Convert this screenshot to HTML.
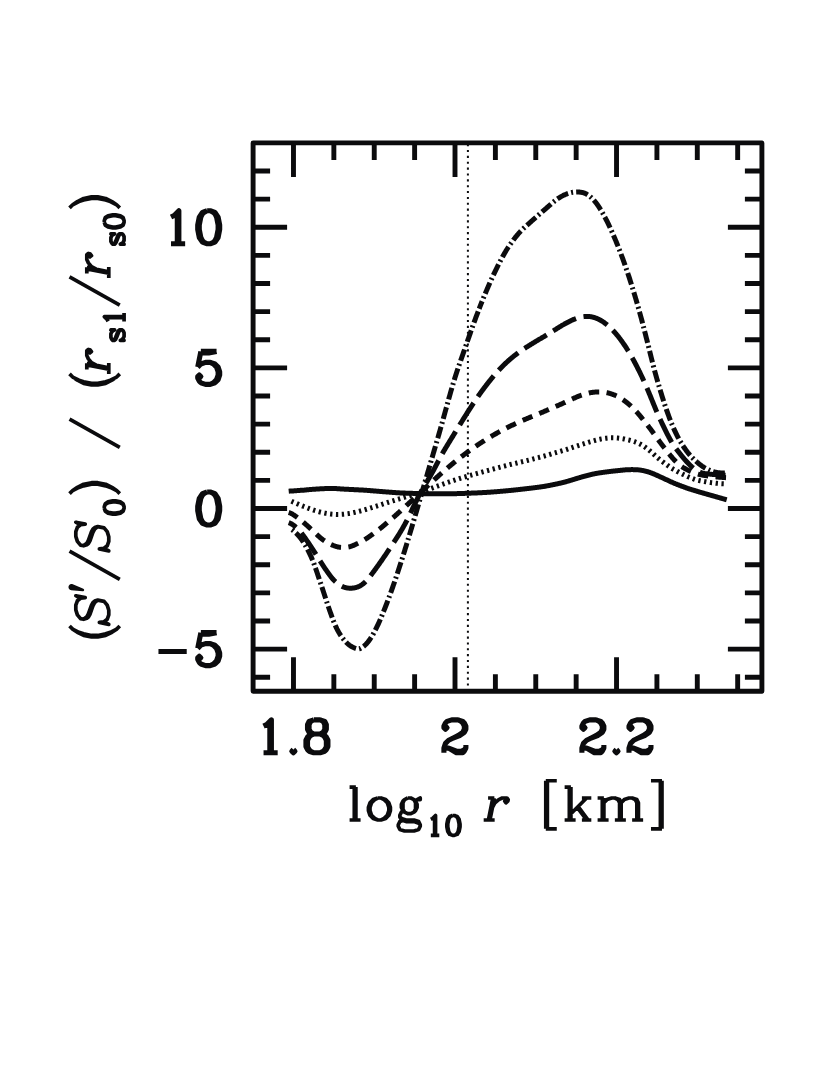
<!DOCTYPE html>
<html><head><meta charset="utf-8"><title>plot</title>
<style>html,body{margin:0;padding:0;background:#fff;font-family:"Liberation Sans",sans-serif}svg{display:block}</style></head>
<body><svg width="830" height="1075" viewBox="0 0 830 1075"><rect width="830" height="1075" fill="#fff"/>
<path d="M293.48 691.3V657.3M293.48 142.9V176.9M333.86 691.3V674.3M333.86 142.9V159.9M374.24 691.3V674.3M374.24 142.9V159.9M414.62 691.3V674.3M414.62 142.9V159.9M455 691.3V657.3M455 142.9V176.9M495.39 691.3V674.3M495.39 142.9V159.9M535.77 691.3V674.3M535.77 142.9V159.9M576.15 691.3V674.3M576.15 142.9V159.9M616.53 691.3V657.3M616.53 142.9V176.9M656.91 691.3V674.3M656.91 142.9V159.9M697.29 691.3V674.3M697.29 142.9V159.9M737.67 691.3V674.3M737.67 142.9V159.9M253.1 677.24H270.1M761.9 677.24H744.9M253.1 649.12H287.1M761.9 649.12H727.9M253.1 620.99H270.1M761.9 620.99H744.9M253.1 592.87H270.1M761.9 592.87H744.9M253.1 564.75H270.1M761.9 564.75H744.9M253.1 536.62H270.1M761.9 536.62H744.9M253.1 508.5H287.1M761.9 508.5H727.9M253.1 480.38H270.1M761.9 480.38H744.9M253.1 452.25H270.1M761.9 452.25H744.9M253.1 424.13H270.1M761.9 424.13H744.9M253.1 396.01H270.1M761.9 396.01H744.9M253.1 367.88H287.1M761.9 367.88H727.9M253.1 339.76H270.1M761.9 339.76H744.9M253.1 311.64H270.1M761.9 311.64H744.9M253.1 283.52H270.1M761.9 283.52H744.9M253.1 255.39H270.1M761.9 255.39H744.9M253.1 227.27H287.1M761.9 227.27H727.9M253.1 199.15H270.1M761.9 199.15H744.9M253.1 171.02H270.1M761.9 171.02H744.9" fill="none" stroke="#0b0b0d" stroke-width="4.9" stroke-linecap="butt"/>
<rect x="253.1" y="142.9" width="508.8" height="548.4" fill="none" stroke="#0b0b0d" stroke-width="4.9" stroke-linejoin="round"/>
<path d="M467.9 144.12V687" fill="none" stroke="#0b0b0d" stroke-width="2" stroke-dasharray="2.1 3.762"/>
<path d="M288.7 491.2 L289.19 491.15 L289.67 491.12 L290.16 491.08 L290.65 491.05 L291.14 491.02 L291.62 490.99 L292.11 490.96 L292.6 490.94 L293.08 490.91 L293.57 490.88 L294.06 490.86 L294.55 490.84 L295.03 490.79 L295.52 490.75 L296.01 490.7 L296.5 490.66 L296.98 490.62 L297.47 490.58 L297.96 490.54 L298.44 490.5 L298.93 490.46 L299.42 490.42 L299.91 490.39 L300.39 490.35 L300.88 490.32 L301.37 490.29 L301.85 490.26 L302.34 490.23 L302.83 490.2 L303.32 490.18 L303.8 490.15 L304.29 490.13 L304.78 490.07 L305.27 490.02 L305.75 489.96 L306.24 489.91 L306.73 489.86 L307.21 489.81 L307.7 489.76 L308.19 489.72 L308.68 489.67 L309.16 489.63 L309.65 489.58 L310.14 489.54 L310.62 489.5 L311.11 489.46 L311.6 489.42 L312.09 489.38 L312.57 489.35 L313.06 489.31 L313.55 489.28 L314.03 489.25 L314.52 489.21 L315.01 489.17 L315.5 489.14 L315.98 489.11 L316.47 489.07 L316.96 489.04 L317.45 489.01 L317.93 488.98 L318.42 488.95 L318.91 488.92 L319.39 488.89 L319.88 488.86 L320.37 488.83 L320.86 488.81 L321.34 488.78 L321.83 488.75 L322.32 488.73 L322.8 488.7 L323.29 488.68 L323.78 488.65 L324.27 488.63 L324.75 488.61 L325.24 488.59 L325.73 488.57 L326.22 488.56 L326.7 488.54 L327.19 488.52 L327.68 488.51 L328.16 488.49 L328.65 488.48 L329.14 488.47 L329.63 488.46 L330.11 488.45 L330.6 488.44 L331.09 488.43 L331.57 488.43 L332.06 488.42 L332.55 488.42 L333.04 488.41 L333.52 488.43 L334.01 488.46 L334.5 488.49 L334.98 488.52 L335.47 488.56 L335.96 488.59 L336.45 488.62 L336.93 488.65 L337.42 488.69 L337.91 488.72 L338.4 488.75 L338.88 488.79 L339.37 488.82 L339.86 488.86 L340.34 488.9 L340.83 488.93 L341.32 488.97 L341.81 489.01 L342.29 489.04 L342.78 489.08 L343.27 489.1 L343.75 489.12 L344.24 489.14 L344.73 489.16 L345.22 489.19 L345.7 489.21 L346.19 489.23 L346.68 489.26 L347.16 489.28 L347.65 489.31 L348.14 489.33 L348.63 489.36 L349.11 489.39 L349.6 489.41 L350.09 489.44 L350.58 489.46 L351.06 489.49 L351.55 489.52 L352.04 489.54 L352.52 489.57 L353.01 489.59 L353.5 489.62 L353.99 489.64 L354.47 489.67 L354.96 489.69 L355.45 489.71 L355.93 489.74 L356.42 489.76 L356.91 489.79 L357.4 489.81 L357.88 489.83 L358.37 489.86 L358.86 489.88 L359.35 489.91 L359.83 489.93 L360.32 489.96 L360.81 489.98 L361.29 490 L361.78 490.03 L362.27 490.05 L362.76 490.08 L363.24 490.1 L363.73 490.13 L364.22 490.15 L364.7 490.18 L365.19 490.21 L365.68 490.25 L366.17 490.29 L366.65 490.33 L367.14 490.37 L367.63 490.41 L368.11 490.45 L368.6 490.49 L369.09 490.53 L369.58 490.57 L370.06 490.61 L370.55 490.65 L371.04 490.69 L371.53 490.73 L372.01 490.77 L372.5 490.81 L372.99 490.85 L373.47 490.89 L373.96 490.93 L374.45 490.97 L374.94 491.01 L375.42 491.05 L375.91 491.09 L376.4 491.13 L376.88 491.17 L377.37 491.21 L377.86 491.25 L378.35 491.29 L378.83 491.33 L379.32 491.37 L379.81 491.41 L380.3 491.45 L380.78 491.49 L381.27 491.53 L381.76 491.57 L382.24 491.6 L382.73 491.64 L383.22 491.68 L383.71 491.72 L384.19 491.76 L384.68 491.8 L385.17 491.83 L385.65 491.87 L386.14 491.91 L386.63 491.95 L387.12 491.98 L387.6 492.02 L388.09 492.06 L388.58 492.09 L389.06 492.13 L389.55 492.17 L390.04 492.2 L390.53 492.24 L391.01 492.28 L391.5 492.31 L391.99 492.35 L392.48 492.38 L392.96 492.42 L393.45 492.46 L393.94 492.49 L394.42 492.53 L394.91 492.56 L395.4 492.6 L395.89 492.63 L396.37 492.67 L396.86 492.7 L397.35 492.74 L397.83 492.77 L398.32 492.81 L398.81 492.83 L399.3 492.86 L399.78 492.88 L400.27 492.9 L400.76 492.92 L401.25 492.94 L401.73 492.97 L402.22 492.99 L402.71 493.01 L403.19 493.03 L403.68 493.05 L404.17 493.07 L404.66 493.09 L405.14 493.11 L405.63 493.13 L406.12 493.15 L406.6 493.17 L407.09 493.19 L407.58 493.21 L408.07 493.22 L408.55 493.24 L409.04 493.26 L409.53 493.27 L410.01 493.29 L410.5 493.31 L410.99 493.32 L411.48 493.34 L411.96 493.35 L412.45 493.37 L412.94 493.38 L413.43 493.4 L413.91 493.41 L414.4 493.42 L414.89 493.44 L415.37 493.45 L415.86 493.46 L416.35 493.48 L416.84 493.49 L417.32 493.5 L417.81 493.51 L418.3 493.53 L418.78 493.54 L419.27 493.55 L419.76 493.57 L420.25 493.58 L420.73 493.59 L421.22 493.6 L421.71 493.61 L422.19 493.63 L422.68 493.64 L423.17 493.65 L423.66 493.66 L424.14 493.67 L424.63 493.68 L425.12 493.68 L425.61 493.69 L426.09 493.7 L426.58 493.71 L427.07 493.71 L427.55 493.72 L428.04 493.73 L428.53 493.73 L429.02 493.74 L429.5 493.74 L429.99 493.75 L430.48 493.75 L430.96 493.76 L431.45 493.76 L431.94 493.77 L432.43 493.77 L432.91 493.77 L433.4 493.77 L433.89 493.78 L434.38 493.78 L434.86 493.78 L435.35 493.78 L435.84 493.78 L436.32 493.78 L436.81 493.78 L437.3 493.78 L437.79 493.78 L438.27 493.78 L438.76 493.78 L439.25 493.78 L439.73 493.78 L440.22 493.78 L440.71 493.78 L441.2 493.78 L441.68 493.78 L442.17 493.78 L442.66 493.79 L443.14 493.79 L443.63 493.79 L444.12 493.79 L444.61 493.79 L445.09 493.79 L445.58 493.79 L446.07 493.78 L446.56 493.78 L447.04 493.78 L447.53 493.78 L448.02 493.77 L448.5 493.77 L448.99 493.77 L449.48 493.76 L449.97 493.76 L450.45 493.75 L450.94 493.74 L451.43 493.74 L451.91 493.73 L452.4 493.72 L452.89 493.71 L453.38 493.71 L453.86 493.7 L454.35 493.69 L454.84 493.68 L455.33 493.67 L455.81 493.66 L456.3 493.65 L456.79 493.63 L457.27 493.62 L457.76 493.61 L458.25 493.6 L458.74 493.58 L459.22 493.57 L459.71 493.55 L460.2 493.54 L460.68 493.52 L461.17 493.51 L461.66 493.49 L462.15 493.48 L462.63 493.46 L463.12 493.44 L463.61 493.42 L464.09 493.41 L464.58 493.39 L465.07 493.37 L465.56 493.35 L466.04 493.33 L466.53 493.31 L467.02 493.29 L467.51 493.27 L467.99 493.24 L468.48 493.23 L468.97 493.21 L469.45 493.19 L469.94 493.18 L470.43 493.16 L470.92 493.14 L471.4 493.12 L471.89 493.1 L472.38 493.08 L472.86 493.07 L473.35 493.05 L473.84 493.03 L474.33 493 L474.81 492.98 L475.3 492.96 L475.79 492.94 L476.28 492.92 L476.76 492.9 L477.25 492.88 L477.74 492.85 L478.22 492.83 L478.71 492.81 L479.2 492.78 L479.69 492.76 L480.17 492.73 L480.66 492.71 L481.15 492.68 L481.63 492.66 L482.12 492.63 L482.61 492.61 L483.1 492.58 L483.58 492.55 L484.07 492.52 L484.56 492.5 L485.04 492.47 L485.53 492.44 L486.02 492.41 L486.51 492.38 L486.99 492.35 L487.48 492.32 L487.97 492.29 L488.46 492.26 L488.94 492.22 L489.43 492.19 L489.92 492.16 L490.4 492.13 L490.89 492.09 L491.38 492.06 L491.87 492.02 L492.35 491.99 L492.84 491.95 L493.33 491.92 L493.81 491.88 L494.3 491.85 L494.79 491.81 L495.28 491.77 L495.76 491.73 L496.25 491.7 L496.74 491.66 L497.23 491.62 L497.71 491.58 L498.2 491.54 L498.69 491.5 L499.17 491.46 L499.66 491.42 L500.15 491.38 L500.64 491.34 L501.12 491.3 L501.61 491.26 L502.1 491.22 L502.58 491.17 L503.07 491.13 L503.56 491.09 L504.05 491.04 L504.53 491 L505.02 490.95 L505.51 490.91 L505.99 490.86 L506.48 490.82 L506.97 490.77 L507.46 490.73 L507.94 490.68 L508.43 490.63 L508.92 490.58 L509.41 490.53 L509.89 490.49 L510.38 490.44 L510.87 490.39 L511.35 490.34 L511.84 490.29 L512.33 490.24 L512.82 490.19 L513.3 490.14 L513.79 490.09 L514.28 490.04 L514.76 489.99 L515.25 489.94 L515.74 489.88 L516.23 489.83 L516.71 489.78 L517.2 489.73 L517.69 489.67 L518.17 489.62 L518.66 489.57 L519.15 489.51 L519.64 489.46 L520.12 489.4 L520.61 489.35 L521.1 489.29 L521.59 489.23 L522.07 489.18 L522.56 489.12 L523.05 489.06 L523.53 489 L524.02 488.94 L524.51 488.89 L525 488.83 L525.48 488.77 L525.97 488.72 L526.46 488.67 L526.94 488.61 L527.43 488.56 L527.92 488.5 L528.41 488.45 L528.89 488.39 L529.38 488.34 L529.87 488.28 L530.36 488.23 L530.84 488.17 L531.33 488.11 L531.82 488.05 L532.3 488 L532.79 487.94 L533.28 487.88 L533.77 487.82 L534.25 487.76 L534.74 487.7 L535.23 487.63 L535.71 487.57 L536.2 487.51 L536.69 487.44 L537.18 487.38 L537.66 487.31 L538.15 487.25 L538.64 487.18 L539.12 487.11 L539.61 487.05 L540.1 486.98 L540.59 486.91 L541.07 486.84 L541.56 486.77 L542.05 486.7 L542.54 486.63 L543.02 486.56 L543.51 486.49 L544 486.41 L544.48 486.33 L544.97 486.24 L545.46 486.16 L545.95 486.07 L546.43 485.98 L546.92 485.9 L547.41 485.81 L547.89 485.72 L548.38 485.63 L548.87 485.54 L549.36 485.44 L549.84 485.35 L550.33 485.26 L550.82 485.16 L551.31 485.06 L551.79 484.97 L552.28 484.87 L552.77 484.77 L553.25 484.67 L553.74 484.57 L554.23 484.47 L554.72 484.37 L555.2 484.27 L555.69 484.17 L556.18 484.06 L556.66 483.96 L557.15 483.85 L557.64 483.75 L558.13 483.64 L558.61 483.53 L559.1 483.42 L559.59 483.31 L560.07 483.2 L560.56 483.09 L561.05 482.98 L561.54 482.87 L562.02 482.75 L562.51 482.64 L563 482.52 L563.49 482.41 L563.97 482.28 L564.46 482.14 L564.95 482.01 L565.43 481.87 L565.92 481.73 L566.41 481.6 L566.9 481.46 L567.38 481.32 L567.87 481.18 L568.36 481.04 L568.84 480.89 L569.33 480.75 L569.82 480.61 L570.31 480.46 L570.79 480.31 L571.28 480.17 L571.77 480.02 L572.26 479.87 L572.74 479.72 L573.23 479.57 L573.72 479.42 L574.2 479.27 L574.69 479.11 L575.18 478.96 L575.67 478.81 L576.15 478.66 L576.64 478.51 L577.13 478.36 L577.61 478.21 L578.1 478.06 L578.59 477.92 L579.08 477.77 L579.56 477.62 L580.05 477.48 L580.54 477.34 L581.02 477.19 L581.51 477.05 L582 476.91 L582.49 476.77 L582.97 476.63 L583.46 476.5 L583.95 476.37 L584.44 476.24 L584.92 476.11 L585.41 475.98 L585.9 475.85 L586.38 475.73 L586.87 475.6 L587.36 475.48 L587.85 475.35 L588.33 475.23 L588.82 475.11 L589.31 474.99 L589.79 474.87 L590.28 474.75 L590.77 474.63 L591.26 474.51 L591.74 474.4 L592.23 474.28 L592.72 474.17 L593.21 474.06 L593.69 473.96 L594.18 473.85 L594.67 473.75 L595.15 473.66 L595.64 473.56 L596.13 473.47 L596.62 473.38 L597.1 473.3 L597.59 473.21 L598.08 473.13 L598.56 473.05 L599.05 472.97 L599.54 472.9 L600.03 472.82 L600.51 472.75 L601 472.68 L601.49 472.6 L601.97 472.53 L602.46 472.46 L602.95 472.39 L603.44 472.33 L603.92 472.26 L604.41 472.19 L604.9 472.13 L605.39 472.06 L605.87 472 L606.36 471.93 L606.85 471.87 L607.33 471.81 L607.82 471.75 L608.31 471.68 L608.8 471.62 L609.28 471.56 L609.77 471.5 L610.26 471.44 L610.74 471.38 L611.23 471.33 L611.72 471.27 L612.21 471.21 L612.69 471.15 L613.18 471.1 L613.67 471.04 L614.15 470.99 L614.64 470.94 L615.13 470.89 L615.62 470.84 L616.1 470.79 L616.59 470.74 L617.08 470.69 L617.57 470.64 L618.05 470.6 L618.54 470.55 L619.03 470.51 L619.51 470.45 L620 470.4 L620.49 470.34 L620.98 470.29 L621.46 470.24 L621.95 470.19 L622.44 470.14 L622.92 470.09 L623.41 470.04 L623.9 469.99 L624.39 469.94 L624.87 469.9 L625.36 469.86 L625.85 469.83 L626.34 469.79 L626.82 469.76 L627.31 469.74 L627.8 469.71 L628.28 469.69 L628.77 469.67 L629.26 469.66 L629.75 469.64 L630.23 469.63 L630.72 469.63 L631.21 469.62 L631.69 469.62 L632.18 469.62 L632.67 469.62 L633.16 469.63 L633.64 469.64 L634.13 469.65 L634.62 469.66 L635.1 469.67 L635.59 469.69 L636.08 469.71 L636.57 469.73 L637.05 469.76 L637.54 469.8 L638.03 469.84 L638.52 469.88 L639 469.94 L639.49 470 L639.98 470.07 L640.46 470.14 L640.95 470.22 L641.44 470.3 L641.93 470.38 L642.41 470.47 L642.9 470.56 L643.39 470.66 L643.87 470.76 L644.36 470.86 L644.85 470.98 L645.34 471.09 L645.82 471.21 L646.31 471.34 L646.8 471.47 L647.29 471.6 L647.77 471.73 L648.26 471.89 L648.75 472.05 L649.23 472.22 L649.72 472.4 L650.21 472.58 L650.7 472.76 L651.18 472.94 L651.67 473.13 L652.16 473.31 L652.64 473.51 L653.13 473.7 L653.62 473.9 L654.11 474.11 L654.59 474.32 L655.08 474.53 L655.57 474.74 L656.05 474.96 L656.54 475.17 L657.03 475.39 L657.52 475.6 L658 475.82 L658.49 476.04 L658.98 476.26 L659.47 476.48 L659.95 476.7 L660.44 476.92 L660.93 477.14 L661.41 477.37 L661.9 477.59 L662.39 477.82 L662.88 478.05 L663.36 478.27 L663.85 478.5 L664.34 478.73 L664.82 478.96 L665.31 479.19 L665.8 479.42 L666.29 479.64 L666.77 479.87 L667.26 480.1 L667.75 480.33 L668.24 480.56 L668.72 480.78 L669.21 481.01 L669.7 481.23 L670.18 481.45 L670.67 481.67 L671.16 481.9 L671.65 482.11 L672.13 482.33 L672.62 482.55 L673.11 482.76 L673.59 482.97 L674.08 483.18 L674.57 483.38 L675.06 483.59 L675.54 483.79 L676.03 483.98 L676.52 484.18 L677 484.37 L677.49 484.56 L677.98 484.75 L678.47 484.94 L678.95 485.12 L679.44 485.31 L679.93 485.49 L680.42 485.67 L680.9 485.86 L681.39 486.05 L681.88 486.24 L682.36 486.42 L682.85 486.6 L683.34 486.79 L683.83 486.97 L684.31 487.15 L684.8 487.33 L685.29 487.51 L685.77 487.68 L686.26 487.86 L686.75 488.03 L687.24 488.2 L687.72 488.37 L688.21 488.53 L688.7 488.69 L689.18 488.85 L689.67 489.01 L690.16 489.17 L690.65 489.32 L691.13 489.47 L691.62 489.62 L692.11 489.77 L692.6 489.92 L693.08 490.07 L693.57 490.21 L694.06 490.36 L694.54 490.51 L695.03 490.66 L695.52 490.81 L696.01 490.96 L696.49 491.11 L696.98 491.26 L697.47 491.41 L697.95 491.56 L698.44 491.7 L698.93 491.85 L699.42 492 L699.9 492.15 L700.39 492.29 L700.88 492.43 L701.37 492.57 L701.85 492.7 L702.34 492.84 L702.83 492.98 L703.31 493.12 L703.8 493.26 L704.29 493.39 L704.78 493.53 L705.26 493.67 L705.75 493.81 L706.24 493.95 L706.72 494.09 L707.21 494.23 L707.7 494.36 L708.19 494.5 L708.67 494.64 L709.16 494.78 L709.65 494.92 L710.13 495.06 L710.62 495.2 L711.11 495.34 L711.6 495.48 L712.08 495.62 L712.57 495.76 L713.06 495.9 L713.55 496.03 L714.03 496.17 L714.52 496.31 L715.01 496.45 L715.49 496.59 L715.98 496.73 L716.47 496.87 L716.96 497.01 L717.44 497.15 L717.93 497.29 L718.42 497.43 L718.9 497.57 L719.39 497.7 L719.88 497.84 L720.37 497.98 L720.85 498.12 L721.34 498.26 L721.83 498.4 L722.32 498.54 L722.8 498.68 L723.29 498.82 L723.78 498.96 L724.26 499.1 L724.75 499.24 L725.24 499.38 L725.73 499.52 L726.21 499.66 L726.7 499.8" fill="none" stroke="#0b0b0d" stroke-width="5" stroke-linejoin="round"/>
<path d="M288.7 500 L289.19 500.22 L289.67 500.43 L290.16 500.65 L290.65 500.87 L291.14 501.08 L291.62 501.3 L292.11 501.51 L292.6 501.73 L293.08 501.94 L293.57 502.15 L294.06 502.37 L294.55 502.58 L295.03 502.79 L295.52 503 L296.01 503.21 L296.5 503.42 L296.98 503.63 L297.47 503.83 L297.96 504.04 L298.44 504.25 L298.93 504.46 L299.42 504.66 L299.91 504.87 L300.39 505.07 L300.88 505.28 L301.37 505.48 L301.85 505.69 L302.34 505.89 L302.83 506.1 L303.32 506.3 L303.8 506.5 L304.29 506.7 L304.78 506.9 L305.27 507.09 L305.75 507.28 L306.24 507.47 L306.73 507.65 L307.21 507.83 L307.7 508.02 L308.19 508.19 L308.68 508.37 L309.16 508.55 L309.65 508.72 L310.14 508.89 L310.62 509.06 L311.11 509.23 L311.6 509.4 L312.09 509.57 L312.57 509.74 L313.06 509.9 L313.55 510.07 L314.03 510.24 L314.52 510.4 L315.01 510.56 L315.5 510.71 L315.98 510.87 L316.47 511.02 L316.96 511.16 L317.45 511.3 L317.93 511.44 L318.42 511.58 L318.91 511.71 L319.39 511.84 L319.88 511.97 L320.37 512.09 L320.86 512.21 L321.34 512.33 L321.83 512.45 L322.32 512.56 L322.8 512.67 L323.29 512.78 L323.78 512.89 L324.27 512.99 L324.75 513.09 L325.24 513.19 L325.73 513.28 L326.22 513.38 L326.7 513.46 L327.19 513.55 L327.68 513.63 L328.16 513.7 L328.65 513.77 L329.14 513.84 L329.63 513.91 L330.11 513.97 L330.6 514.03 L331.09 514.08 L331.57 514.13 L332.06 514.18 L332.55 514.22 L333.04 514.26 L333.52 514.3 L334.01 514.33 L334.5 514.36 L334.98 514.39 L335.47 514.41 L335.96 514.43 L336.45 514.45 L336.93 514.47 L337.42 514.48 L337.91 514.48 L338.4 514.48 L338.88 514.48 L339.37 514.47 L339.86 514.46 L340.34 514.44 L340.83 514.41 L341.32 514.38 L341.81 514.35 L342.29 514.31 L342.78 514.26 L343.27 514.21 L343.75 514.16 L344.24 514.11 L344.73 514.05 L345.22 514 L345.7 513.94 L346.19 513.88 L346.68 513.82 L347.16 513.75 L347.65 513.69 L348.14 513.62 L348.63 513.55 L349.11 513.47 L349.6 513.39 L350.09 513.31 L350.58 513.23 L351.06 513.14 L351.55 513.05 L352.04 512.96 L352.52 512.86 L353.01 512.76 L353.5 512.65 L353.99 512.54 L354.47 512.43 L354.96 512.31 L355.45 512.2 L355.93 512.09 L356.42 511.97 L356.91 511.86 L357.4 511.74 L357.88 511.62 L358.37 511.5 L358.86 511.38 L359.35 511.25 L359.83 511.13 L360.32 511 L360.81 510.88 L361.29 510.75 L361.78 510.61 L362.27 510.48 L362.76 510.35 L363.24 510.21 L363.73 510.07 L364.22 509.93 L364.7 509.78 L365.19 509.64 L365.68 509.49 L366.17 509.34 L366.65 509.19 L367.14 509.04 L367.63 508.89 L368.11 508.74 L368.6 508.58 L369.09 508.43 L369.58 508.28 L370.06 508.13 L370.55 507.98 L371.04 507.83 L371.53 507.68 L372.01 507.52 L372.5 507.37 L372.99 507.22 L373.47 507.07 L373.96 506.91 L374.45 506.76 L374.94 506.61 L375.42 506.45 L375.91 506.3 L376.4 506.14 L376.88 505.99 L377.37 505.83 L377.86 505.67 L378.35 505.52 L378.83 505.36 L379.32 505.2 L379.81 505.05 L380.3 504.89 L380.78 504.73 L381.27 504.57 L381.76 504.41 L382.24 504.25 L382.73 504.09 L383.22 503.93 L383.71 503.77 L384.19 503.61 L384.68 503.45 L385.17 503.29 L385.65 503.13 L386.14 502.97 L386.63 502.81 L387.12 502.65 L387.6 502.5 L388.09 502.34 L388.58 502.18 L389.06 502.03 L389.55 501.88 L390.04 501.72 L390.53 501.57 L391.01 501.42 L391.5 501.27 L391.99 501.12 L392.48 500.97 L392.96 500.82 L393.45 500.67 L393.94 500.52 L394.42 500.37 L394.91 500.22 L395.4 500.07 L395.89 499.92 L396.37 499.77 L396.86 499.62 L397.35 499.47 L397.83 499.32 L398.32 499.17 L398.81 499.02 L399.3 498.87 L399.78 498.72 L400.27 498.57 L400.76 498.42 L401.25 498.27 L401.73 498.12 L402.22 497.96 L402.71 497.81 L403.19 497.66 L403.68 497.51 L404.17 497.36 L404.66 497.21 L405.14 497.06 L405.63 496.91 L406.12 496.76 L406.6 496.61 L407.09 496.46 L407.58 496.31 L408.07 496.16 L408.55 496.01 L409.04 495.86 L409.53 495.71 L410.01 495.56 L410.5 495.41 L410.99 495.26 L411.48 495.11 L411.96 494.95 L412.45 494.8 L412.94 494.65 L413.43 494.5 L413.91 494.35 L414.4 494.19 L414.89 494.04 L415.37 493.88 L415.86 493.72 L416.35 493.57 L416.84 493.41 L417.32 493.25 L417.81 493.08 L418.3 492.92 L418.78 492.76 L419.27 492.59 L419.76 492.42 L420.25 492.26 L420.73 492.09 L421.22 491.92 L421.71 491.75 L422.19 491.58 L422.68 491.41 L423.17 491.23 L423.66 491.06 L424.14 490.89 L424.63 490.72 L425.12 490.55 L425.61 490.37 L426.09 490.2 L426.58 490.03 L427.07 489.85 L427.55 489.68 L428.04 489.51 L428.53 489.33 L429.02 489.16 L429.5 488.99 L429.99 488.81 L430.48 488.64 L430.96 488.47 L431.45 488.29 L431.94 488.12 L432.43 487.95 L432.91 487.77 L433.4 487.6 L433.89 487.42 L434.38 487.25 L434.86 487.07 L435.35 486.89 L435.84 486.72 L436.32 486.54 L436.81 486.37 L437.3 486.19 L437.79 486.01 L438.27 485.84 L438.76 485.66 L439.25 485.49 L439.73 485.31 L440.22 485.13 L440.71 484.96 L441.2 484.78 L441.68 484.6 L442.17 484.43 L442.66 484.25 L443.14 484.08 L443.63 483.9 L444.12 483.73 L444.61 483.55 L445.09 483.38 L445.58 483.2 L446.07 483.03 L446.56 482.85 L447.04 482.68 L447.53 482.51 L448.02 482.34 L448.5 482.16 L448.99 481.99 L449.48 481.82 L449.97 481.66 L450.45 481.49 L450.94 481.32 L451.43 481.16 L451.91 480.99 L452.4 480.83 L452.89 480.67 L453.38 480.51 L453.86 480.35 L454.35 480.19 L454.84 480.03 L455.33 479.87 L455.81 479.71 L456.3 479.56 L456.79 479.4 L457.27 479.25 L457.76 479.09 L458.25 478.94 L458.74 478.79 L459.22 478.64 L459.71 478.49 L460.2 478.34 L460.68 478.19 L461.17 478.04 L461.66 477.89 L462.15 477.75 L462.63 477.6 L463.12 477.45 L463.61 477.31 L464.09 477.16 L464.58 477.02 L465.07 476.88 L465.56 476.74 L466.04 476.59 L466.53 476.45 L467.02 476.31 L467.51 476.17 L467.99 476.03 L468.48 475.89 L468.97 475.75 L469.45 475.61 L469.94 475.47 L470.43 475.33 L470.92 475.19 L471.4 475.05 L471.89 474.91 L472.38 474.78 L472.86 474.64 L473.35 474.5 L473.84 474.36 L474.33 474.22 L474.81 474.09 L475.3 473.95 L475.79 473.81 L476.28 473.67 L476.76 473.54 L477.25 473.4 L477.74 473.26 L478.22 473.13 L478.71 472.99 L479.2 472.86 L479.69 472.72 L480.17 472.59 L480.66 472.45 L481.15 472.32 L481.63 472.18 L482.12 472.05 L482.61 471.92 L483.1 471.78 L483.58 471.65 L484.07 471.52 L484.56 471.38 L485.04 471.25 L485.53 471.12 L486.02 470.99 L486.51 470.86 L486.99 470.72 L487.48 470.59 L487.97 470.46 L488.46 470.33 L488.94 470.2 L489.43 470.07 L489.92 469.94 L490.4 469.81 L490.89 469.68 L491.38 469.55 L491.87 469.42 L492.35 469.29 L492.84 469.16 L493.33 469.03 L493.81 468.9 L494.3 468.77 L494.79 468.64 L495.28 468.51 L495.76 468.38 L496.25 468.25 L496.74 468.12 L497.23 467.99 L497.71 467.86 L498.2 467.72 L498.69 467.59 L499.17 467.46 L499.66 467.33 L500.15 467.2 L500.64 467.07 L501.12 466.94 L501.61 466.82 L502.1 466.69 L502.58 466.56 L503.07 466.43 L503.56 466.3 L504.05 466.18 L504.53 466.05 L505.02 465.92 L505.51 465.79 L505.99 465.66 L506.48 465.53 L506.97 465.4 L507.46 465.27 L507.94 465.14 L508.43 465.01 L508.92 464.88 L509.41 464.75 L509.89 464.62 L510.38 464.51 L510.87 464.4 L511.35 464.29 L511.84 464.18 L512.33 464.06 L512.82 463.95 L513.3 463.84 L513.79 463.73 L514.28 463.62 L514.76 463.5 L515.25 463.39 L515.74 463.28 L516.23 463.16 L516.71 463.05 L517.2 462.94 L517.69 462.82 L518.17 462.71 L518.66 462.59 L519.15 462.48 L519.64 462.36 L520.12 462.25 L520.61 462.13 L521.1 462.01 L521.59 461.89 L522.07 461.78 L522.56 461.66 L523.05 461.54 L523.53 461.42 L524.02 461.3 L524.51 461.18 L525 461.06 L525.48 460.94 L525.97 460.82 L526.46 460.7 L526.94 460.57 L527.43 460.45 L527.92 460.33 L528.41 460.2 L528.89 460.08 L529.38 459.95 L529.87 459.83 L530.36 459.7 L530.84 459.58 L531.33 459.45 L531.82 459.33 L532.3 459.2 L532.79 459.07 L533.28 458.95 L533.77 458.82 L534.25 458.69 L534.74 458.57 L535.23 458.44 L535.71 458.31 L536.2 458.18 L536.69 458.06 L537.18 457.93 L537.66 457.8 L538.15 457.68 L538.64 457.55 L539.12 457.42 L539.61 457.29 L540.1 457.17 L540.59 457.04 L541.07 456.91 L541.56 456.79 L542.05 456.66 L542.54 456.53 L543.02 456.4 L543.51 456.28 L544 456.15 L544.48 456 L544.97 455.86 L545.46 455.71 L545.95 455.57 L546.43 455.42 L546.92 455.28 L547.41 455.13 L547.89 454.99 L548.38 454.84 L548.87 454.7 L549.36 454.55 L549.84 454.41 L550.33 454.26 L550.82 454.11 L551.31 453.97 L551.79 453.82 L552.28 453.68 L552.77 453.53 L553.25 453.39 L553.74 453.24 L554.23 453.1 L554.72 452.95 L555.2 452.81 L555.69 452.66 L556.18 452.52 L556.66 452.37 L557.15 452.23 L557.64 452.08 L558.13 451.94 L558.61 451.8 L559.1 451.65 L559.59 451.51 L560.07 451.37 L560.56 451.23 L561.05 451.09 L561.54 450.95 L562.02 450.81 L562.51 450.67 L563 450.53 L563.49 450.39 L563.97 450.25 L564.46 450.11 L564.95 449.97 L565.43 449.83 L565.92 449.69 L566.41 449.52 L566.9 449.35 L567.38 449.18 L567.87 449.02 L568.36 448.85 L568.84 448.68 L569.33 448.51 L569.82 448.34 L570.31 448.18 L570.79 448.01 L571.28 447.85 L571.77 447.68 L572.26 447.52 L572.74 447.36 L573.23 447.2 L573.72 447.04 L574.2 446.88 L574.69 446.72 L575.18 446.56 L575.67 446.4 L576.15 446.24 L576.64 446.08 L577.13 445.92 L577.61 445.76 L578.1 445.6 L578.59 445.44 L579.08 445.29 L579.56 445.13 L580.05 444.97 L580.54 444.81 L581.02 444.66 L581.51 444.5 L582 444.35 L582.49 444.2 L582.97 444.05 L583.46 443.89 L583.95 443.73 L584.44 443.57 L584.92 443.42 L585.41 443.27 L585.9 443.11 L586.38 442.96 L586.87 442.81 L587.36 442.66 L587.85 442.52 L588.33 442.37 L588.82 442.22 L589.31 442.08 L589.79 441.94 L590.28 441.79 L590.77 441.65 L591.26 441.51 L591.74 441.37 L592.23 441.23 L592.72 441.09 L593.21 440.95 L593.69 440.82 L594.18 440.68 L594.67 440.54 L595.15 440.41 L595.64 440.27 L596.13 440.14 L596.62 440 L597.1 439.87 L597.59 439.74 L598.08 439.61 L598.56 439.49 L599.05 439.38 L599.54 439.28 L600.03 439.18 L600.51 439.09 L601 439 L601.49 438.91 L601.97 438.83 L602.46 438.75 L602.95 438.67 L603.44 438.6 L603.92 438.53 L604.41 438.46 L604.9 438.4 L605.39 438.34 L605.87 438.28 L606.36 438.22 L606.85 438.16 L607.33 438.11 L607.82 438.06 L608.31 438.01 L608.8 437.96 L609.28 437.91 L609.77 437.86 L610.26 437.83 L610.74 437.82 L611.23 437.81 L611.72 437.8 L612.21 437.8 L612.69 437.81 L613.18 437.81 L613.67 437.82 L614.15 437.84 L614.64 437.86 L615.13 437.88 L615.62 437.91 L616.1 437.94 L616.59 437.98 L617.08 438.02 L617.57 438.06 L618.05 438.11 L618.54 438.16 L619.03 438.21 L619.51 438.27 L620 438.33 L620.49 438.4 L620.98 438.47 L621.46 438.54 L621.95 438.61 L622.44 438.69 L622.92 438.77 L623.41 438.86 L623.9 438.96 L624.39 439.05 L624.87 439.16 L625.36 439.27 L625.85 439.38 L626.34 439.5 L626.82 439.62 L627.31 439.75 L627.8 439.86 L628.28 439.96 L628.77 440.06 L629.26 440.17 L629.75 440.29 L630.23 440.4 L630.72 440.53 L631.21 440.66 L631.69 440.8 L632.18 440.94 L632.67 441.09 L633.16 441.24 L633.64 441.4 L634.13 441.56 L634.62 441.72 L635.1 441.89 L635.59 442.06 L636.08 442.24 L636.57 442.42 L637.05 442.61 L637.54 442.8 L638.03 443 L638.52 443.23 L639 443.47 L639.49 443.71 L639.98 443.96 L640.46 444.22 L640.95 444.48 L641.44 444.75 L641.93 445.02 L642.41 445.3 L642.9 445.58 L643.39 445.87 L643.87 446.22 L644.36 446.57 L644.85 446.92 L645.34 447.28 L645.82 447.64 L646.31 448 L646.8 448.36 L647.29 448.72 L647.77 449.09 L648.26 449.47 L648.75 449.87 L649.23 450.28 L649.72 450.69 L650.21 451.11 L650.7 451.53 L651.18 451.95 L651.67 452.38 L652.16 452.82 L652.64 453.26 L653.13 453.71 L653.62 454.15 L654.11 454.6 L654.59 455.05 L655.08 455.5 L655.57 455.95 L656.05 456.4 L656.54 456.85 L657.03 457.29 L657.52 457.68 L658 458.07 L658.49 458.47 L658.98 458.86 L659.47 459.26 L659.95 459.65 L660.44 460.04 L660.93 460.44 L661.41 460.82 L661.9 461.18 L662.39 461.54 L662.88 461.9 L663.36 462.26 L663.85 462.62 L664.34 462.98 L664.82 463.34 L665.31 463.7 L665.8 464.06 L666.29 464.42 L666.77 464.78 L667.26 465.14 L667.75 465.5 L668.24 465.86 L668.72 466.22 L669.21 466.58 L669.7 466.94 L670.18 467.3 L670.67 467.63 L671.16 467.93 L671.65 468.22 L672.13 468.51 L672.62 468.79 L673.11 469.07 L673.59 469.34 L674.08 469.61 L674.57 469.87 L675.06 470.14 L675.54 470.4 L676.03 470.68 L676.52 470.95 L677 471.23 L677.49 471.5 L677.98 471.77 L678.47 472.03 L678.95 472.3 L679.44 472.56 L679.93 472.82 L680.42 473.08 L680.9 473.35 L681.39 473.61 L681.88 473.86 L682.36 474.12 L682.85 474.36 L683.34 474.6 L683.83 474.84 L684.31 475.07 L684.8 475.3 L685.29 475.53 L685.77 475.75 L686.26 475.97 L686.75 476.18 L687.24 476.4 L687.72 476.61 L688.21 476.81 L688.7 477.01 L689.18 477.21 L689.67 477.41 L690.16 477.6 L690.65 477.79 L691.13 477.98 L691.62 478.18 L692.11 478.37 L692.6 478.56 L693.08 478.75 L693.57 478.94 L694.06 479.12 L694.54 479.3 L695.03 479.48 L695.52 479.65 L696.01 479.82 L696.49 479.99 L696.98 480.11 L697.47 480.22 L697.95 480.32 L698.44 480.43 L698.93 480.53 L699.42 480.62 L699.9 480.71 L700.39 480.8 L700.88 480.89 L701.37 480.97 L701.85 481.05 L702.34 481.13 L702.83 481.23 L703.31 481.33 L703.8 481.43 L704.29 481.52 L704.78 481.62 L705.26 481.71 L705.75 481.8 L706.24 481.88 L706.72 481.97 L707.21 482.05 L707.7 482.13 L708.19 482.2 L708.67 482.28 L709.16 482.35 L709.65 482.42 L710.13 482.49 L710.62 482.55 L711.11 482.61 L711.6 482.67 L712.08 482.73 L712.57 482.78 L713.06 482.83 L713.55 482.88 L714.03 482.95 L714.52 483.02 L715.01 483.08 L715.49 483.14 L715.98 483.2 L716.47 483.26 L716.96 483.32 L717.44 483.37 L717.93 483.42 L718.42 483.46 L718.9 483.51 L719.39 483.55 L719.88 483.59 L720.37 483.63 L720.85 483.67 L721.34 483.7 L721.83 483.73 L722.32 483.76 L722.8 483.78 L723.29 483.81 L723.78 483.83 L724.26 483.84 L724.75 483.86 L725.24 483.87 L725.73 483.88 L726.21 483.89 L726.7 483.89" fill="none" stroke="#0b0b0d" stroke-width="5" stroke-linejoin="round" stroke-dasharray="2.3 3.54" stroke-dashoffset="2.85"/>
<path d="M288.7 512.5 L289.19 512.66 L289.67 512.82 L290.16 513 L290.65 513.2 L291.14 513.41 L291.62 513.65 L292.11 513.92 L292.6 514.21 L293.08 514.54 L293.57 514.86 L294.06 515.19 L294.55 515.53 L295.03 515.87 L295.52 516.21 L296.01 516.55 L296.5 516.9 L296.98 517.24 L297.47 517.6 L297.96 517.95 L298.44 518.3 L298.93 518.66 L299.42 519.02 L299.91 519.38 L300.39 519.78 L300.88 520.19 L301.37 520.6 L301.85 521.02 L302.34 521.43 L302.83 521.84 L303.32 522.26 L303.8 522.68 L304.29 523.1 L304.78 523.52 L305.27 523.94 L305.75 524.36 L306.24 524.78 L306.73 525.21 L307.21 525.63 L307.7 526.07 L308.19 526.5 L308.68 526.95 L309.16 527.39 L309.65 527.84 L310.14 528.29 L310.62 528.75 L311.11 529.21 L311.6 529.66 L312.09 530.13 L312.57 530.59 L313.06 531.05 L313.55 531.51 L314.03 531.97 L314.52 532.43 L315.01 532.89 L315.5 533.35 L315.98 533.8 L316.47 534.25 L316.96 534.7 L317.45 535.15 L317.93 535.59 L318.42 536.03 L318.91 536.46 L319.39 536.89 L319.88 537.31 L320.37 537.72 L320.86 538.13 L321.34 538.52 L321.83 538.9 L322.32 539.27 L322.8 539.63 L323.29 539.99 L323.78 540.33 L324.27 540.66 L324.75 540.99 L325.24 541.3 L325.73 541.61 L326.22 541.91 L326.7 542.2 L327.19 542.48 L327.68 542.76 L328.16 543.03 L328.65 543.29 L329.14 543.54 L329.63 543.78 L330.11 544.02 L330.6 544.26 L331.09 544.48 L331.57 544.7 L332.06 544.92 L332.55 545.13 L333.04 545.33 L333.52 545.53 L334.01 545.72 L334.5 545.91 L334.98 546.09 L335.47 546.26 L335.96 546.42 L336.45 546.57 L336.93 546.7 L337.42 546.83 L337.91 546.94 L338.4 547.04 L338.88 547.13 L339.37 547.21 L339.86 547.27 L340.34 547.33 L340.83 547.38 L341.32 547.41 L341.81 547.44 L342.29 547.46 L342.78 547.47 L343.27 547.46 L343.75 547.45 L344.24 547.43 L344.73 547.41 L345.22 547.38 L345.7 547.34 L346.19 547.29 L346.68 547.24 L347.16 547.18 L347.65 547.1 L348.14 547.02 L348.63 546.93 L349.11 546.83 L349.6 546.72 L350.09 546.6 L350.58 546.46 L351.06 546.31 L351.55 546.15 L352.04 545.98 L352.52 545.79 L353.01 545.59 L353.5 545.38 L353.99 545.17 L354.47 544.96 L354.96 544.74 L355.45 544.52 L355.93 544.3 L356.42 544.07 L356.91 543.84 L357.4 543.61 L357.88 543.37 L358.37 543.13 L358.86 542.88 L359.35 542.63 L359.83 542.38 L360.32 542.13 L360.81 541.86 L361.29 541.6 L361.78 541.33 L362.27 541.05 L362.76 540.78 L363.24 540.49 L363.73 540.2 L364.22 539.91 L364.7 539.61 L365.19 539.31 L365.68 539 L366.17 538.69 L366.65 538.37 L367.14 538.05 L367.63 537.72 L368.11 537.38 L368.6 537.04 L369.09 536.7 L369.58 536.35 L370.06 536.01 L370.55 535.66 L371.04 535.31 L371.53 534.96 L372.01 534.61 L372.5 534.26 L372.99 533.91 L373.47 533.55 L373.96 533.2 L374.45 532.84 L374.94 532.48 L375.42 532.12 L375.91 531.76 L376.4 531.39 L376.88 531.02 L377.37 530.65 L377.86 530.28 L378.35 529.91 L378.83 529.53 L379.32 529.15 L379.81 528.77 L380.3 528.38 L380.78 527.99 L381.27 527.6 L381.76 527.2 L382.24 526.8 L382.73 526.4 L383.22 525.99 L383.71 525.58 L384.19 525.18 L384.68 524.77 L385.17 524.36 L385.65 523.95 L386.14 523.54 L386.63 523.13 L387.12 522.72 L387.6 522.31 L388.09 521.9 L388.58 521.49 L389.06 521.07 L389.55 520.66 L390.04 520.24 L390.53 519.83 L391.01 519.41 L391.5 518.99 L391.99 518.57 L392.48 518.15 L392.96 517.73 L393.45 517.3 L393.94 516.87 L394.42 516.45 L394.91 516.02 L395.4 515.58 L395.89 515.15 L396.37 514.71 L396.86 514.27 L397.35 513.83 L397.83 513.39 L398.32 512.95 L398.81 512.51 L399.3 512.07 L399.78 511.63 L400.27 511.19 L400.76 510.74 L401.25 510.3 L401.73 509.86 L402.22 509.42 L402.71 508.97 L403.19 508.53 L403.68 508.08 L404.17 507.64 L404.66 507.19 L405.14 506.75 L405.63 506.3 L406.12 505.85 L406.6 505.4 L407.09 504.95 L407.58 504.5 L408.07 504.05 L408.55 503.6 L409.04 503.15 L409.53 502.7 L410.01 502.24 L410.5 501.79 L410.99 501.34 L411.48 500.88 L411.96 500.43 L412.45 499.97 L412.94 499.52 L413.43 499.06 L413.91 498.6 L414.4 498.15 L414.89 497.69 L415.37 497.24 L415.86 496.78 L416.35 496.33 L416.84 495.87 L417.32 495.42 L417.81 494.96 L418.3 494.51 L418.77 494.07" fill="none" stroke="#0b0b0d" stroke-width="5" stroke-linejoin="round" stroke-dasharray="10.5 7.4" stroke-dashoffset="0.35"/>
<path d="M418.77 494.07 L418.78 494.05 L419.27 493.6 L419.76 493.14 L420.25 492.69 L420.73 492.24 L421.22 491.78 L421.71 491.33 L422.19 490.88 L422.68 490.43 L423.17 489.97 L423.66 489.52 L424.14 489.07 L424.63 488.62 L425.12 488.17 L425.61 487.72 L426.09 487.27 L426.58 486.82 L427.07 486.37 L427.55 485.92 L428.04 485.47 L428.53 485.02 L429.02 484.57 L429.5 484.12 L429.99 483.67 L430.48 483.22 L430.96 482.78 L431.45 482.33 L431.94 481.88 L432.43 481.43 L432.91 480.98 L433.4 480.54 L433.89 480.09 L434.38 479.64 L434.86 479.2 L435.35 478.75 L435.84 478.3 L436.32 477.86 L436.81 477.41 L437.3 476.96 L437.79 476.52 L438.27 476.07 L438.76 475.63 L439.25 475.19 L439.73 474.75 L440.22 474.32 L440.71 473.88 L441.2 473.45 L441.68 473.02 L442.17 472.59 L442.66 472.16 L443.14 471.73 L443.63 471.31 L444.12 470.89 L444.61 470.47 L445.09 470.05 L445.58 469.63 L446.07 469.21 L446.56 468.79 L447.04 468.38 L447.53 467.96 L448.02 467.55 L448.5 467.14 L448.99 466.72 L449.48 466.31 L449.97 465.9 L450.45 465.49 L450.94 465.08 L451.43 464.67 L451.91 464.27 L452.4 463.86 L452.89 463.46 L453.38 463.06 L453.86 462.66 L454.35 462.26 L454.84 461.87 L455.33 461.47 L455.81 461.08 L456.3 460.69 L456.79 460.3 L457.27 459.91 L457.76 459.53 L458.25 459.14 L458.74 458.76 L459.22 458.38 L459.71 458 L460.2 457.62 L460.68 457.24 L461.17 456.87 L461.66 456.49 L462.15 456.12 L462.63 455.75 L463.12 455.38 L463.61 455.01 L464.09 454.64 L464.58 454.27 L465.07 453.91 L465.56 453.54 L466.04 453.18 L466.53 452.82 L467.02 452.46 L467.51 452.1 L467.99 451.74 L468.48 451.39 L468.97 451.03 L469.45 450.68 L469.94 450.33 L470.43 449.98 L470.92 449.63 L471.4 449.28 L471.89 448.94 L472.38 448.59 L472.86 448.25 L473.35 447.91 L473.84 447.57 L474.33 447.23 L474.81 446.9 L475.3 446.56 L475.79 446.23 L476.28 445.9 L476.76 445.57 L477.25 445.24 L477.74 444.91 L478.22 444.58 L478.71 444.26 L479.2 443.93 L479.69 443.61 L480.17 443.29 L480.66 442.97 L481.15 442.65 L481.63 442.34 L482.12 442.02 L482.61 441.71 L483.1 441.39 L483.58 441.08 L484.07 440.77 L484.56 440.46 L485.04 440.15 L485.53 439.85 L486.02 439.54 L486.51 439.24 L486.99 438.94 L487.48 438.64 L487.97 438.34 L488.46 438.04 L488.94 437.74 L489.43 437.45 L489.92 437.15 L490.4 436.86 L490.89 436.57 L491.38 436.28 L491.87 435.99 L492.35 435.71 L492.84 435.42 L493.33 435.14 L493.81 434.85 L494.3 434.57 L494.79 434.29 L495.28 434.02 L495.76 433.74 L496.25 433.46 L496.74 433.19 L497.23 432.91 L497.71 432.64 L498.2 432.37 L498.69 432.1 L499.17 431.83 L499.66 431.56 L500.15 431.29 L500.64 431.02 L501.12 430.76 L501.61 430.5 L502.1 430.23 L502.58 429.97 L503.07 429.72 L503.56 429.46 L504.05 429.2 L504.53 428.95 L505.02 428.7 L505.51 428.45 L505.99 428.2 L506.48 427.95 L506.97 427.71 L507.46 427.46 L507.94 427.22 L508.43 426.98 L508.92 426.75 L509.41 426.51 L509.89 426.28 L510.38 426.05 L510.87 425.82 L511.35 425.58 L511.84 425.35 L512.33 425.13 L512.82 424.9 L513.3 424.67 L513.79 424.44 L514.28 424.21 L514.76 423.99 L515.25 423.76 L515.74 423.54 L516.23 423.31 L516.71 423.09 L517.2 422.87 L517.69 422.64 L518.17 422.42 L518.66 422.2 L519.15 421.98 L519.64 421.76 L520.12 421.55 L520.61 421.33 L521.1 421.11 L521.59 420.9 L522.07 420.68 L522.56 420.47 L523.05 420.26 L523.53 420.05 L524.02 419.83 L524.51 419.63 L525 419.42 L525.48 419.21 L525.97 419 L526.46 418.8 L526.94 418.59 L527.43 418.39 L527.92 418.19 L528.41 417.98 L528.89 417.78 L529.38 417.58 L529.87 417.38 L530.36 417.18 L530.84 416.98 L531.33 416.77 L531.82 416.57 L532.3 416.37 L532.79 416.17 L533.28 415.97 L533.77 415.78 L534.25 415.58 L534.74 415.38 L535.23 415.18 L535.71 414.98 L536.2 414.78 L536.69 414.58 L537.18 414.38 L537.66 414.18 L538.15 413.97 L538.64 413.77 L539.12 413.57 L539.61 413.37 L540.1 413.17 L540.59 412.96 L541.07 412.76 L541.56 412.56 L542.05 412.35 L542.54 412.15 L543.02 411.94 L543.51 411.73 L544 411.53 L544.48 411.32 L544.97 411.11 L545.46 410.9 L545.95 410.69 L546.43 410.48 L546.92 410.28 L547.41 410.07 L547.89 409.86 L548.38 409.65 L548.87 409.44 L549.36 409.23 L549.84 409.02 L550.33 408.81 L550.82 408.6 L551.31 408.39 L551.79 408.17 L552.28 407.96 L552.77 407.75 L553.25 407.54 L553.74 407.33 L554.23 407.12 L554.72 406.91 L555.2 406.69 L555.69 406.48 L556.18 406.27 L556.66 406.06 L557.15 405.85 L557.64 405.64 L558.13 405.42 L558.61 405.21 L559.1 405 L559.59 404.79 L560.07 404.58 L560.56 404.36 L561.05 404.15 L561.54 403.93 L562.02 403.71 L562.51 403.49 L563 403.27 L563.49 403.05 L563.97 402.83 L564.46 402.61 L564.95 402.39 L565.43 402.16 L565.92 401.94 L566.41 401.71 L566.9 401.49 L567.38 401.26 L567.87 401.03 L568.36 400.81 L568.84 400.58 L569.33 400.36 L569.82 400.13 L570.31 399.9 L570.79 399.68 L571.28 399.45 L571.77 399.23 L572.26 399 L572.74 398.78 L573.23 398.56 L573.72 398.34 L574.2 398.12 L574.69 397.9 L575.18 397.68 L575.67 397.46 L576.15 397.24 L576.64 397.03 L577.13 396.82 L577.61 396.62 L578.1 396.42 L578.59 396.22 L579.08 396.04 L579.56 395.85 L580.05 395.67 L580.54 395.5 L581.02 395.33 L581.51 395.16 L582 395 L582.49 394.84 L582.97 394.68 L583.46 394.53 L583.95 394.38 L584.44 394.24 L584.92 394.09 L585.41 393.95 L585.9 393.82 L586.38 393.68 L586.87 393.55 L587.36 393.42 L587.85 393.29 L588.33 393.17 L588.82 393.05 L589.31 392.94 L589.79 392.83 L590.28 392.74 L590.77 392.65 L591.26 392.56 L591.74 392.48 L592.23 392.41 L592.72 392.34 L593.21 392.28 L593.69 392.22 L594.18 392.17 L594.67 392.12 L595.15 392.08 L595.64 392.04 L596.13 392.01 L596.62 391.98 L597.1 391.95 L597.59 391.94 L598.08 391.93 L598.56 391.92 L599.05 391.93 L599.54 391.93 L600.03 391.95 L600.51 391.97 L601 391.99 L601.49 392.02 L601.97 392.05 L602.46 392.08 L602.95 392.12 L603.44 392.16 L603.92 392.22 L604.41 392.28 L604.9 392.34 L605.39 392.42 L605.87 392.5 L606.36 392.6 L606.85 392.69 L607.33 392.8 L607.82 392.91 L608.31 393.03 L608.8 393.15 L609.28 393.28 L609.77 393.42 L610.26 393.56 L610.74 393.7 L611.23 393.85 L611.72 394.01 L612.21 394.18 L612.69 394.35 L613.18 394.53 L613.67 394.72 L614.15 394.91 L614.64 395.11 L615.13 395.32 L615.62 395.54 L616.1 395.76 L616.59 395.99 L617.08 396.23 L617.57 396.47 L618.05 396.73 L618.54 396.99 L619.03 397.25 L619.51 397.53 L620 397.81 L620.49 398.1 L620.98 398.4 L621.46 398.7 L621.95 399.02 L622.44 399.34 L622.92 399.66 L623.41 400 L623.9 400.34 L624.39 400.69 L624.87 401.05 L625.36 401.42 L625.85 401.79 L626.34 402.17 L626.82 402.56 L627.31 402.95 L627.8 403.36 L628.28 403.76 L628.77 404.18 L629.26 404.6 L629.75 405.03 L630.23 405.46 L630.72 405.91 L631.21 406.36 L631.69 406.81 L632.18 407.28 L632.67 407.75 L633.16 408.23 L633.64 408.71 L634.13 409.21 L634.62 409.71 L635.1 410.22 L635.59 410.74 L636.08 411.26 L636.57 411.79 L637.05 412.34 L637.54 412.89 L638.03 413.44 L638.52 414.01 L639 414.59 L639.49 415.17 L639.98 415.76 L640.46 416.36 L640.95 416.95 L641.44 417.55 L641.93 418.15 L642.41 418.75 L642.9 419.35 L643.39 419.96 L643.87 420.57 L644.36 421.18 L644.85 421.79 L645.34 422.4 L645.82 423.02 L646.31 423.64 L646.8 424.26 L647.29 424.89 L647.77 425.52 L648.26 426.15 L648.75 426.79 L649.23 427.42 L649.72 428.07 L650.21 428.71 L650.7 429.36 L651.18 430.01 L651.67 430.67 L652.16 431.33 L652.64 432 L653.13 432.66 L653.62 433.33 L654.11 434 L654.59 434.68 L655.08 435.35 L655.57 436.03 L656.05 436.7 L656.54 437.38 L657.03 438.05 L657.52 438.73 L658 439.4 L658.49 440.07 L658.98 440.74 L659.47 441.4 L659.95 442.06 L660.44 442.72 L660.93 443.38 L661.41 444.03 L661.9 444.67 L662.39 445.31 L662.88 445.95 L663.36 446.58 L663.85 447.2 L664.34 447.82 L664.82 448.44 L665.31 449.07 L665.8 449.7 L666.29 450.33 L666.77 450.96 L667.26 451.58 L667.75 452.2 L668.24 452.81 L668.72 453.42 L669.21 454.03 L669.7 454.62 L670.18 455.22 L670.67 455.81 L671.16 456.39 L671.65 456.97 L672.13 457.55 L672.62 458.11 L673.11 458.67 L673.59 459.22 L674.08 459.75 L674.57 460.27 L675.06 460.78 L675.54 461.28 L676.03 461.77 L676.52 462.24 L677 462.71 L677.49 463.16 L677.98 463.61 L678.47 464.04 L678.95 464.47 L679.44 464.88 L679.93 465.28 L680.42 465.65 L680.9 466 L681.39 466.34 L681.88 466.67 L682.36 466.99 L682.85 467.31 L683.34 467.61 L683.83 467.91 L684.31 468.19 L684.8 468.47 L685.29 468.74 L685.77 469 L686.26 469.26 L686.75 469.5 L687.24 469.74 L687.72 469.98 L688.21 470.21 L688.7 470.44 L689.18 470.67 L689.67 470.9 L690.16 471.12 L690.65 471.33 L691.13 471.55 L691.62 471.76 L692.11 471.96 L692.6 472.17 L693.08 472.36 L693.57 472.56 L694.06 472.74 L694.54 472.93 L695.03 473.11 L695.52 473.28 L696.01 473.45 L696.49 473.61 L696.98 473.77 L697.47 473.92 L697.95 474.06 L698.44 474.2 L698.93 474.34 L699.42 474.47 L699.9 474.59 L700.39 474.7 L700.88 474.81 L701.37 474.91 L701.85 475 L702.34 475.09 L702.83 475.17 L703.31 475.25 L703.8 475.33 L704.29 475.41 L704.78 475.48 L705.26 475.56 L705.75 475.64 L706.24 475.71 L706.72 475.78 L707.21 475.86 L707.7 475.93 L708.19 476 L708.67 476.07 L709.16 476.13 L709.65 476.2 L710.13 476.26 L710.62 476.32 L711.11 476.38 L711.6 476.44 L712.08 476.5 L712.57 476.55 L713.06 476.6 L713.55 476.65 L714.03 476.69 L714.52 476.74 L715.01 476.78 L715.49 476.83 L715.98 476.87 L716.47 476.92 L716.96 476.96 L717.44 477.01 L717.93 477.05 L718.42 477.09 L718.9 477.14 L719.39 477.18 L719.88 477.22 L720.37 477.26 L720.85 477.3 L721.34 477.34 L721.83 477.38 L722.32 477.42 L722.8 477.45 L723.29 477.49 L723.78 477.52 L724.26 477.56 L724.75 477.59 L725.24 477.62 L725.73 477.65 L726.21 477.67 L726.7 477.7" fill="none" stroke="#0b0b0d" stroke-width="5" stroke-linejoin="round" stroke-dasharray="10.5 7.4" stroke-dashoffset="15.05"/>
<path d="M288.7 522.6 L289.19 522.78 L289.67 522.99 L290.16 523.21 L290.65 523.44 L291.14 523.7 L291.62 523.98 L292.11 524.27 L292.6 524.58 L293.08 524.92 L293.57 525.27 L294.06 525.63 L294.55 526.02 L295.03 526.42 L295.52 526.84 L296.01 527.27 L296.5 527.71 L296.98 528.17 L297.47 528.63 L297.96 529.11 L298.44 529.6 L298.93 530.1 L299.42 530.63 L299.91 531.17 L300.39 531.73 L300.88 532.32 L301.37 532.93 L301.85 533.57 L302.34 534.23 L302.83 534.89 L303.32 535.55 L303.8 536.22 L304.29 536.9 L304.78 537.58 L305.27 538.26 L305.75 538.95 L306.24 539.65 L306.73 540.35 L307.21 541.05 L307.7 541.76 L308.19 542.47 L308.68 543.19 L309.16 543.91 L309.65 544.63 L310.14 545.36 L310.62 546.09 L311.11 546.83 L311.6 547.57 L312.09 548.31 L312.57 549.06 L313.06 549.81 L313.55 550.56 L314.03 551.31 L314.52 552.07 L315.01 552.83 L315.5 553.6 L315.98 554.38 L316.47 555.17 L316.96 555.97 L317.45 556.76 L317.93 557.56 L318.42 558.36 L318.91 559.15 L319.39 559.93 L319.88 560.7 L320.37 561.46 L320.86 562.21 L321.34 562.96 L321.83 563.71 L322.32 564.45 L322.8 565.18 L323.29 565.91 L323.78 566.64 L324.27 567.36 L324.75 568.07 L325.24 568.79 L325.73 569.49 L326.22 570.19 L326.7 570.89 L327.19 571.58 L327.68 572.26 L328.16 572.94 L328.65 573.61 L329.14 574.28 L329.63 574.94 L330.11 575.6 L330.6 576.25 L331.09 576.9 L331.57 577.54 L332.06 578.17 L332.55 578.76 L333.04 579.31 L333.52 579.82 L334.01 580.31 L334.5 580.78 L334.98 581.24 L335.47 581.69 L335.96 582.12 L336.45 582.54 L336.93 582.94 L337.42 583.32 L337.91 583.69 L338.4 584.05 L338.88 584.39 L339.37 584.72 L339.86 585.03 L340.34 585.34 L340.83 585.63 L341.32 585.91 L341.81 586.17 L342.29 586.41 L342.78 586.63 L343.27 586.84 L343.75 587.03 L344.24 587.21 L344.73 587.37 L345.22 587.51 L345.7 587.64 L346.19 587.76 L346.68 587.86 L347.16 587.95 L347.65 588.02 L348.14 588.09 L348.63 588.13 L349.11 588.17 L349.6 588.2 L350.09 588.21 L350.58 588.21 L351.06 588.2 L351.55 588.18 L352.04 588.15 L352.52 588.11 L353.01 588.06 L353.5 588 L353.99 587.93 L354.47 587.85 L354.96 587.75 L355.45 587.64 L355.93 587.52 L356.42 587.38 L356.91 587.23 L357.4 587.06 L357.88 586.88 L358.37 586.69 L358.86 586.47 L359.35 586.24 L359.83 585.99 L360.32 585.72 L360.81 585.44 L361.29 585.13 L361.78 584.8 L362.27 584.46 L362.76 584.09 L363.24 583.7 L363.73 583.29 L364.22 582.86 L364.7 582.4 L365.19 581.93 L365.68 581.43 L366.17 580.92 L366.65 580.4 L367.14 579.86 L367.63 579.32 L368.11 578.76 L368.6 578.18 L369.09 577.6 L369.58 576.99 L370.06 576.38 L370.55 575.75 L371.04 575.1 L371.53 574.44 L372.01 573.79 L372.5 573.13 L372.99 572.47 L373.47 571.81 L373.96 571.15 L374.45 570.49 L374.94 569.83 L375.42 569.17 L375.91 568.5 L376.4 567.83 L376.88 567.16 L377.37 566.49 L377.86 565.81 L378.35 565.13 L378.83 564.45 L379.32 563.76 L379.81 563.07 L380.3 562.37 L380.78 561.68 L381.15 561.14" fill="none" stroke="#0b0b0d" stroke-width="5" stroke-linejoin="round" stroke-dasharray="26 7.7" stroke-dashoffset="17.15"/>
<path d="M380.81 561.64 L381.27 560.98 L381.76 560.27 L382.24 559.57 L382.73 558.86 L383.22 558.15 L383.71 557.44 L384.19 556.72 L384.68 556.01 L385.17 555.29 L385.65 554.57 L386.14 553.85 L386.63 553.12 L387.12 552.4 L387.6 551.67 L388.09 550.94 L388.58 550.22 L389.06 549.49 L389.55 548.75 L390.04 548.02 L390.53 547.29 L391.01 546.55 L391.5 545.82 L391.99 545.09 L392.48 544.35 L392.96 543.62 L393.45 542.88 L393.94 542.14 L394.42 541.4 L394.91 540.65 L395.4 539.91 L395.89 539.16 L396.37 538.4 L396.86 537.64 L397.35 536.88 L397.83 536.11 L398.32 535.34 L398.81 534.56 L399.3 533.77 L399.78 532.98 L400.27 532.18 L400.76 531.38 L401.25 530.56 L401.73 529.74 L402.22 528.91 L402.71 528.07 L403.19 527.22 L403.68 526.36 L404.17 525.49 L404.66 524.61 L405.14 523.72 L405.63 522.82 L406.12 521.91 L406.6 520.98 L407.09 520.05 L407.58 519.09 L408.07 518.13 L408.55 517.14 L409.04 516.14 L409.53 515.13 L410.01 514.11 L410.5 513.08 L410.99 512.05 L411.48 511.01 L411.96 509.98 L412.45 508.94 L412.94 507.91 L413.43 506.89 L413.91 505.88 L414.4 504.87 L414.89 503.88 L415.37 502.87 L415.86 501.85 L416.35 500.83 L416.84 499.81 L417.32 498.8 L417.81 497.81 L418.3 496.82 L418.78 495.86 L419.27 494.92 L419.76 494.02 L420.25 493.15 L420.73 492.29 L421.22 491.45 L421.71 490.61 L422.19 489.77 L422.68 488.94 L423.17 488.11 L423.66 487.29 L424.14 486.46 L424.63 485.63 L425.12 484.81 L425.61 483.98 L426.09 483.14 L426.58 482.3 L427.07 481.47 L427.55 480.64 L428.04 479.8 L428.53 478.97 L429.02 478.14 L429.5 477.3 L429.99 476.46 L430.48 475.62 L430.96 474.78 L431.45 473.93 L431.94 473.07 L432.43 472.21 L432.91 471.33 L433.4 470.44 L433.89 469.54 L434.38 468.62 L434.86 467.69 L435.35 466.76 L435.84 465.83 L436.32 464.89 L436.81 463.96 L437.3 463.02 L437.79 462.1 L438.27 461.18 L438.76 460.27 L439.25 459.35 L439.73 458.44 L440.22 457.52 L440.71 456.62 L441.2 455.71 L441.68 454.82 L442.17 453.93 L442.66 453.07 L443.14 452.21 L443.63 451.36 L444.12 450.52 L444.61 449.69 L445.09 448.87 L445.58 448.06 L446.07 447.25 L446.56 446.44 L447.04 445.64 L447.53 444.84 L448.02 444.04 L448.5 443.24 L448.99 442.45 L449.48 441.65 L449.97 440.85 L450.45 440.05 L450.94 439.25 L451.43 438.45 L451.91 437.65 L452.4 436.85 L452.89 436.06 L453.38 435.26 L453.86 434.46 L454.35 433.66 L454.84 432.86 L455.33 432.07 L455.81 431.27 L456.3 430.48 L456.79 429.68 L457.27 428.89 L457.76 428.09 L458.25 427.3 L458.74 426.51 L459.22 425.72 L459.71 424.93 L460.2 424.14 L460.68 423.35 L461.17 422.57 L461.66 421.78 L462.15 421 L462.63 420.21 L463.12 419.43 L463.61 418.65 L464.09 417.87 L464.58 417.09 L465.07 416.31 L465.56 415.53 L466.04 414.76 L466.53 413.98 L467.02 413.2 L467.51 412.43 L467.99 411.66 L468.48 410.89 L468.97 410.13 L469.45 409.38 L469.94 408.62 L470.43 407.87 L470.92 407.11 L471.4 406.37 L471.89 405.62 L472.38 404.88 L472.86 404.14 L473.35 403.4 L473.84 402.67 L474.33 401.94 L474.81 401.21 L475.3 400.49 L475.79 399.77 L476.28 399.05 L476.76 398.34 L477.25 397.62 L477.74 396.91 L478.22 396.21 L478.71 395.5 L479.2 394.8 L479.69 394.11 L480.17 393.42 L480.66 392.74 L481.15 392.06 L481.63 391.38 L482.12 390.71 L482.61 390.05 L483.1 389.39 L483.58 388.73 L484.07 388.08 L484.56 387.43 L485.04 386.79 L485.53 386.15 L486.02 385.52 L486.51 384.88 L486.99 384.26 L487.48 383.63 L487.97 383.01 L488.46 382.4 L488.94 381.78 L489.43 381.18 L489.92 380.57 L490.4 379.97 L490.89 379.37 L491.38 378.77 L491.87 378.17 L492.35 377.58 L492.84 376.99 L493.33 376.41 L493.81 375.82 L494.3 375.24 L494.79 374.67 L495.28 374.1 L495.76 373.54 L496.25 372.98 L496.74 372.43 L497.23 371.89 L497.71 371.36 L498.2 370.83 L498.69 370.31 L499.17 369.79 L499.66 369.28 L500.15 368.77 L500.64 368.26 L501.12 367.76 L501.61 367.26 L502.1 366.76 L502.58 366.27 L503.07 365.78 L503.56 365.29 L504.05 364.81 L504.53 364.33 L505.02 363.85 L505.51 363.38 L505.99 362.92 L506.48 362.46 L506.97 362 L507.46 361.56 L507.94 361.11 L508.43 360.68 L508.92 360.25 L509.41 359.82 L509.89 359.4 L510.38 358.98 L510.87 358.57 L511.35 358.16 L511.84 357.75 L512.33 357.34 L512.82 356.95 L513.3 356.55 L513.79 356.16 L514.28 355.77 L514.76 355.38 L515.25 355 L515.74 354.63 L516.23 354.25 L516.71 353.88 L517.2 353.52 L517.69 353.16 L518.17 352.8 L518.66 352.44 L519.15 352.09 L519.64 351.74 L520.12 351.39 L520.61 351.05 L521.1 350.7 L521.59 350.36 L522.07 350.02 L522.56 349.69 L523.05 349.36 L523.53 349.03 L524.02 348.71 L524.51 348.39 L525 348.09 L525.48 347.78 L525.97 347.48 L526.46 347.17 L526.94 346.87 L527.43 346.56 L527.92 346.26 L528.41 345.96 L528.89 345.65 L529.38 345.35 L529.87 345.05 L530.36 344.75 L530.84 344.45 L531.33 344.15 L531.82 343.85 L532.3 343.55 L532.79 343.25 L533.28 342.95 L533.77 342.66 L534.25 342.36 L534.74 342.06 L535.23 341.77 L535.71 341.47 L536.2 341.18 L536.69 340.89 L537.18 340.59 L537.66 340.3 L538.15 340.01 L538.64 339.72 L539.12 339.44 L539.61 339.15 L540.1 338.86 L540.59 338.58 L541.07 338.29 L541.56 338 L542.05 337.72 L542.54 337.43 L543.02 337.14 L543.51 336.86 L544 336.57 L544.48 336.28 L544.97 335.99 L545.46 335.7 L545.95 335.4 L546.43 335.11 L546.92 334.81 L547.41 334.51 L547.89 334.21 L548.38 333.91 L548.87 333.6 L549.36 333.3 L549.84 333 L550.33 332.69 L550.82 332.39 L551.31 332.08 L551.79 331.78 L552.28 331.47 L552.77 331.16 L553.25 330.86 L553.74 330.56 L554.23 330.25 L554.72 329.95 L555.2 329.64 L555.69 329.34 L556.18 329.04 L556.66 328.73 L557.15 328.43 L557.64 328.13 L558.13 327.83 L558.61 327.53 L559.1 327.22 L559.59 326.92 L560.07 326.62 L560.56 326.32 L561.05 326.03 L561.54 325.73 L562.02 325.45 L562.51 325.16 L563 324.88 L563.49 324.61 L563.97 324.33 L564.46 324.06 L564.95 323.79 L565.43 323.53 L565.92 323.27 L566.41 323 L566.9 322.74 L567.38 322.49 L567.87 322.23 L568.36 321.98 L568.84 321.72 L569.33 321.47 L569.82 321.22 L570.31 320.97 L570.79 320.72 L571.28 320.49 L571.77 320.26 L572.26 320.05 L572.74 319.84 L573.23 319.63 L573.72 319.43 L574.2 319.24 L574.69 319.05 L575.18 318.87 L575.67 318.7 L576.15 318.52 L576.64 318.36 L577.13 318.19 L577.61 318.03 L578.1 317.88 L578.59 317.74 L579.08 317.6 L579.56 317.47 L580.05 317.35 L580.54 317.23 L581.02 317.13 L581.51 317.03 L582 316.93 L582.49 316.85 L582.97 316.77 L583.46 316.7 L583.95 316.64 L584.44 316.59 L584.92 316.54 L585.41 316.51 L585.9 316.49 L586.38 316.47 L586.87 316.47 L587.36 316.47 L587.85 316.48 L588.33 316.49 L588.82 316.51 L589.31 316.54 L589.79 316.58 L590.28 316.64 L590.77 316.71 L591.26 316.79 L591.74 316.89 L592.23 317 L592.72 317.11 L593.21 317.24 L593.69 317.38 L594.18 317.52 L594.67 317.67 L595.15 317.84 L595.64 318.01 L596.13 318.19 L596.62 318.38 L597.1 318.58 L597.59 318.79 L598.08 319.01 L598.56 319.23 L599.05 319.47 L599.54 319.72 L600.03 319.97 L600.51 320.23 L601 320.51 L601.49 320.8 L601.97 321.1 L602.46 321.41 L602.95 321.73 L603.44 322.07 L603.92 322.41 L604.41 322.76 L604.9 323.13 L605.39 323.5 L605.87 323.88 L606.36 324.27 L606.85 324.66 L607.33 325.07 L607.82 325.48 L608.31 325.91 L608.8 326.34 L609.28 326.78 L609.77 327.23 L610.26 327.69 L610.74 328.16 L611.23 328.64 L611.72 329.13 L612.21 329.63 L612.69 330.14 L613.18 330.66 L613.67 331.19 L614.15 331.73 L614.64 332.27 L615.13 332.83 L615.62 333.38 L616.1 333.95 L616.59 334.53 L617.08 335.11 L617.57 335.7 L618.05 336.31 L618.54 336.92 L619.03 337.54 L619.51 338.17 L620 338.81 L620.49 339.46 L620.98 340.13 L621.46 340.8 L621.95 341.48 L622.44 342.17 L622.92 342.86 L623.41 343.57 L623.9 344.28 L624.39 345 L624.87 345.73 L625.36 346.47 L625.85 347.22 L626.34 347.97 L626.82 348.74 L627.31 349.51 L627.8 350.29 L628.28 351.08 L628.77 351.88 L629.26 352.69 L629.75 353.51 L630.23 354.34 L630.72 355.18 L631.21 356.02 L631.69 356.88 L632.18 357.75 L632.67 358.63 L633.16 359.51 L633.64 360.4 L634.13 361.3 L634.62 362.21 L635.1 363.12 L635.59 364.04 L636.08 364.97 L636.57 365.91 L637.05 366.86 L637.54 367.81 L638.03 368.78 L638.52 369.75 L639 370.73 L639.49 371.72 L639.98 372.72 L640.46 373.72 L640.95 374.74 L641.44 375.76 L641.93 376.79 L642.41 377.83 L642.9 378.88 L643.39 379.94 L643.87 381.01 L644.36 382.09 L644.85 383.18 L645.34 384.28 L645.82 385.39 L646.31 386.52 L646.8 387.65 L647.29 388.79 L647.77 389.94 L648.26 391.1 L648.75 392.27 L649.23 393.44 L649.72 394.63 L650.21 395.81 L650.7 397.01 L651.18 398.2 L651.67 399.4 L652.16 400.6 L652.64 401.79 L653.13 402.99 L653.62 404.18 L654.11 405.37 L654.59 406.56 L655.08 407.74 L655.57 408.91 L656.05 410.08 L656.54 411.23 L657.03 412.37 L657.52 413.49 L658 414.6 L658.49 415.69 L658.98 416.77 L659.47 417.84 L659.95 418.9 L660.44 419.95 L660.93 421 L661.41 422.05 L661.9 423.09 L662.39 424.13 L662.88 425.16 L663.36 426.18 L663.85 427.19 L664.34 428.19 L664.82 429.19 L665.31 430.18 L665.8 431.16 L666.29 432.13 L666.77 433.09 L667.26 434.04 L667.75 434.98 L668.24 435.92 L668.72 436.84 L669.21 437.75 L669.7 438.65 L670.18 439.54 L670.67 440.41 L671.16 441.28 L671.65 442.13 L672.13 442.96 L672.62 443.75 L673.11 444.51 L673.59 445.25 L674.08 445.96 L674.57 446.64 L675.06 447.31 L675.54 447.96 L676.03 448.61 L676.52 449.24 L677 449.87 L677.49 450.5 L677.98 451.13 L678.47 451.76 L678.95 452.38 L679.44 453 L679.93 453.62 L680.42 454.24 L680.9 454.85 L681.39 455.46 L681.88 456.06 L682.36 456.66 L682.85 457.25 L683.34 457.84 L683.83 458.42 L684.31 459 L684.8 459.57 L685.29 460.13 L685.77 460.68 L686.26 461.22 L686.75 461.76 L687.24 462.29 L687.72 462.81 L688.21 463.32 L688.7 463.82 L689.18 464.3 L689.67 464.78 L690.16 465.25 L690.65 465.73 L691.13 466.19 L691.62 466.63 L692.11 467.07 L692.6 467.49 L693.08 467.9 L693.57 468.29 L694.06 468.67 L694.54 469.04 L695.03 469.39 L695.52 469.73 L696.01 470.06 L696.49 470.37 L696.98 470.67 L697.47 470.95 L697.95 471.22 L698.44 471.48 L698.93 471.72 L699.42 471.95 L699.9 472.17 L700.39 472.37 L700.88 472.56 L701.37 472.73 L701.85 472.9 L702.34 473.04 L702.83 473.18 L703.31 473.3 L703.8 473.41 L704.29 473.51 L704.78 473.59 L705.26 473.65 L705.75 473.71 L706.24 473.76 L706.72 473.81 L707.21 473.87 L707.7 473.92 L708.19 473.97 L708.67 474.02 L709.16 474.07 L709.65 474.12 L710.13 474.17 L710.62 474.22 L711.11 474.27 L711.6 474.31 L712.08 474.36 L712.57 474.4 L713.06 474.44 L713.55 474.48 L714.03 474.52 L714.52 474.56 L715.01 474.59 L715.49 474.63 L715.98 474.66 L716.47 474.7 L716.96 474.73 L717.44 474.77 L717.93 474.81 L718.42 474.84 L718.9 474.88 L719.39 474.91 L719.88 474.95 L720.37 474.98 L720.85 475.02 L721.34 475.05 L721.83 475.09 L722.32 475.12 L722.8 475.16 L723.29 475.19 L723.78 475.22 L724.26 475.25 L724.75 475.29 L725.24 475.32 L725.73 475.34 L726.21 475.37 L726.7 475.4" fill="none" stroke="#0b0b0d" stroke-width="5" stroke-linejoin="round" stroke-dasharray="26 7.7" stroke-dashoffset="10.5"/>
<path d="M289.35 528.25 L289.67 528.38 L290.16 528.61 L290.65 528.87 L291.14 529.15 L291.62 529.46 L292.11 529.79 L292.6 530.14 L293.08 530.51 L293.57 530.89 L294.06 531.29 L294.55 531.71 L295.03 532.14 L295.52 532.58 L296.01 533.04 L296.5 533.51 L296.98 534.01 L297.47 534.51 L297.96 535.04 L298.44 535.58 L298.93 536.14 L299.42 536.72 L299.91 537.31 L300.39 537.93 L300.88 538.57 L301.37 539.24 L301.85 539.92 L302.34 540.63 L302.83 541.36 L303.32 542.11 L303.8 542.88 L304.29 543.67 L304.78 544.48 L305.27 545.3 L305.75 546.15 L306.24 547.01 L306.73 547.89 L307.21 548.8 L307.7 549.72 L308.19 550.67 L308.68 551.64 L309.16 552.63 L309.65 553.64 L310.14 554.67 L310.62 555.72 L311.11 556.78 L311.6 557.87 L312.09 558.99 L312.57 560.14 L313.06 561.34 L313.55 562.59 L314.03 563.9 L314.52 565.26 L315.01 566.64 L315.5 568.04 L315.98 569.45 L316.47 570.87 L316.96 572.31 L317.45 573.75 L317.93 575.2 L318.42 576.65 L318.91 578.09 L319.39 579.54 L319.88 581 L320.37 582.46 L320.86 583.92 L321.34 585.39 L321.83 586.85 L322.32 588.32 L322.8 589.8 L323.29 591.27 L323.78 592.74 L324.27 594.22 L324.75 595.72 L325.24 597.21 L325.73 598.71 L326.22 600.21 L326.7 601.71 L327.19 603.19 L327.68 604.66 L328.16 606.11 L328.65 607.54 L329.14 608.96 L329.63 610.36 L330.11 611.75 L330.6 613.12 L331.09 614.47 L331.57 615.81 L332.06 617.14 L332.55 618.45 L333.04 619.75 L333.52 621.03 L334.01 622.29 L334.5 623.49 L334.98 624.66 L335.47 625.77 L335.96 626.85 L336.45 627.88 L336.93 628.88 L337.42 629.83 L337.91 630.75 L338.4 631.63 L338.88 632.49 L339.37 633.3 L339.86 634.09 L340.34 634.85 L340.83 635.59 L341.32 636.3 L341.81 636.98 L342.29 637.65 L342.78 638.29 L343.27 638.92 L343.75 639.52 L344.24 640.11 L344.73 640.69 L345.22 641.24 L345.7 641.77 L346.19 642.28 L346.68 642.78 L347.16 643.25 L347.65 643.7 L348.14 644.13 L348.63 644.54 L349.11 644.93 L349.6 645.3 L350.09 645.64 L350.58 645.96 L351.06 646.26 L351.55 646.55 L352.04 646.82 L352.52 647.08 L353.01 647.32 L353.5 647.55 L353.99 647.76 L354.47 647.96 L354.96 648.15 L355.45 648.32 L355.93 648.48 L356.42 648.63 L356.91 648.77 L357.4 648.88 L357.88 648.93 L358.37 648.93 L358.86 648.87 L359.35 648.76 L359.83 648.6 L360.32 648.39 L360.81 648.16 L361.29 647.9 L361.78 647.62 L362.27 647.32 L362.76 646.99 L363.24 646.64 L363.73 646.26 L364.22 645.86 L364.7 645.43 L365.19 644.98 L365.68 644.51 L366.17 644.01 L366.65 643.49 L367.14 642.94 L367.63 642.37 L368.11 641.77 L368.6 641.15 L369.09 640.51 L369.58 639.84 L370.06 639.14 L370.55 638.42 L371.04 637.67 L371.53 636.9 L372.01 636.1 L372.5 635.28 L372.99 634.43 L373.47 633.56 L373.96 632.66 L374.45 631.75 L374.94 630.82 L375.42 629.87 L375.91 628.91 L376.4 627.93 L376.88 626.94 L377.37 625.92 L377.86 624.9 L378.35 623.85 L378.83 622.78 L379.32 621.7 L379.81 620.6 L380.3 619.47 L380.78 618.33 L381.27 617.17 L381.76 615.98 L382.24 614.78 L382.73 613.57 L383.22 612.37 L383.71 611.16 L384.19 609.94 L384.68 608.72 L385.17 607.5 L385.65 606.26 L386.14 605.02 L386.63 603.77 L387.12 602.5 L387.6 601.23 L388.09 599.93 L388.58 598.63 L389.06 597.3 L389.55 595.96 L390.04 594.62 L390.53 593.26 L391.01 591.9 L391.5 590.54 L391.99 589.17 L392.48 587.79 L392.96 586.4 L393.45 585.01 L393.94 583.6 L394.42 582.19 L394.91 580.76 L395.4 579.32 L395.89 577.87 L396.37 576.41 L396.86 574.95 L397.35 573.48 L397.83 572 L398.32 570.52 L398.81 569.04 L399.3 567.55 L399.78 566.05 L400.27 564.54 L400.76 563.03 L401.25 561.5 L401.73 559.97 L402.22 558.43 L402.71 556.88 L403.19 555.33 L403.68 553.78 L404.17 552.22 L404.66 550.66 L405.14 549.09 L405.63 547.52 L406.12 545.94 L406.6 544.35 L407.09 542.76 L407.58 541.16 L408.07 539.55 L408.55 537.94 L409.04 536.33 L409.53 534.71 L410.01 533.1 L410.5 531.48 L410.99 529.85 L411.48 528.23 L411.96 526.6 L412.45 524.96 L412.94 523.32 L413.43 521.67 L413.91 520.02 L414.4 518.37 L414.89 516.71 L415.37 515.06 L415.86 513.4 L416.35 511.74 L416.84 510.08 L417.32 508.42 L417.81 506.76 L418.3 505.09 L418.78 503.42 L419.27 501.74 L419.76 500.07 L420.25 498.39 L420.73 496.71 L421.22 495.03 L421.71 493.35 L422.19 491.68 L422.68 490 L423.17 488.32 L423.66 486.64 L424.14 484.96 L424.63 483.28 L425.12 481.6 L425.61 479.93 L426.09 478.25 L426.58 476.58 L427.07 474.9 L427.55 473.22 L428.04 471.55 L428.53 469.87 L429.02 468.2 L429.5 466.52 L429.99 464.85 L430.48 463.18 L430.96 461.5 L431.45 459.83 L431.94 458.16 L432.43 456.49 L432.91 454.82 L433.4 453.16 L433.89 451.49 L434.38 449.83 L434.86 448.16 L435.35 446.5 L435.84 444.83 L436.32 443.16 L436.81 441.49 L437.3 439.81 L437.79 438.13 L438.27 436.43 L438.76 434.73 L439.25 433.03 L439.73 431.32 L440.22 429.61 L440.71 427.89 L441.2 426.17 L441.68 424.44 L442.17 422.71 L442.66 420.97 L443.14 419.22 L443.63 417.46 L444.12 415.69 L444.61 413.91 L445.09 412.13 L445.58 410.35 L446.07 408.57 L446.56 406.8 L447.04 405.03 L447.53 403.27 L448.02 401.52 L448.5 399.78 L448.99 398.04 L449.48 396.32 L449.97 394.59 L450.45 392.88 L450.94 391.18 L451.43 389.49 L451.91 387.81 L452.4 386.15 L452.89 384.49 L453.38 382.86 L453.86 381.24 L454.35 379.65 L454.84 378.07 L455.33 376.52 L455.81 374.99 L456.3 373.47 L456.79 371.98 L457.27 370.5 L457.76 369.04 L458.25 367.6 L458.74 366.17 L459.22 364.77 L459.71 363.37 L460.2 361.97 L460.68 360.58 L461.17 359.18 L461.66 357.79 L462.15 356.39 L462.63 354.99 L463.12 353.6 L463.61 352.2 L464.09 350.81 L464.58 349.41 L465.07 348.01 L465.56 346.62 L466.04 345.22 L466.53 343.82 L467.02 342.42 L467.51 341.03 L467.99 339.63 L468.48 338.23 L468.97 336.83 L469.45 335.44 L469.94 334.05 L470.43 332.66 L470.92 331.27 L471.4 329.89 L471.89 328.51 L472.38 327.13 L472.86 325.76 L473.35 324.4 L473.84 323.05 L474.33 321.71 L474.81 320.37 L475.3 319.05 L475.79 317.73 L476.28 316.42 L476.76 315.12 L477.25 313.82 L477.74 312.54 L478.22 311.26 L478.23 311.24" fill="none" stroke="#0b0b0d" stroke-width="5" stroke-linejoin="round" stroke-dasharray="12 3.1 2 3.1" stroke-dashoffset="12.1"/>
<path d="M479.2 308.72 L479.2 308.72 L479.69 307.46 L480.17 306.2 L480.66 304.94 L481.15 303.7 L481.63 302.47 L482.12 301.25 L482.61 300.03 L483.1 298.83 L483.58 297.63 L484.07 296.44 L484.56 295.26 L485.04 294.08 L485.53 292.92 L486.02 291.76 L486.51 290.61 L486.99 289.47 L487.48 288.34 L487.97 287.21 L488.46 286.08 L488.94 284.97 L489.43 283.85 L489.92 282.74 L490.4 281.64 L490.89 280.54 L491.38 279.45 L491.87 278.36 L492.35 277.28 L492.84 276.21 L493.33 275.16 L493.81 274.12 L494.3 273.08 L494.79 272.06 L495.28 271.05 L495.76 270.05 L496.25 269.05 L496.74 268.07 L497.23 267.09 L497.71 266.12 L498.2 265.16 L498.69 264.2 L499.17 263.25 L499.66 262.31 L500.15 261.37 L500.64 260.44 L501.12 259.51 L501.61 258.6 L502.1 257.69 L502.58 256.8 L503.07 255.92 L503.56 255.04 L504.05 254.18 L504.53 253.33 L505.02 252.49 L505.51 251.67 L505.99 250.85 L506.48 250.05 L506.97 249.26 L507.46 248.48 L507.94 247.71 L508.43 246.96 L508.92 246.22 L509.41 245.49 L509.89 244.78 L510.38 244.08 L510.87 243.4 L511.35 242.72 L511.84 242.05 L512.33 241.39 L512.82 240.73 L513.3 240.08 L513.79 239.44 L514.28 238.8 L514.76 238.17 L515.25 237.55 L515.74 236.94 L516.23 236.33 L516.71 235.73 L517.2 235.14 L517.69 234.56 L518.17 233.99 L518.66 233.43 L519.15 232.88 L519.64 232.34 L520.12 231.81 L520.61 231.29 L521.1 230.78 L521.59 230.28 L522.07 229.8 L522.56 229.32 L523.05 228.86 L523.53 228.41 L524.02 227.97 L524.51 227.53 L525 227.09 L525.48 226.65 L525.97 226.21 L526.46 225.77 L526.94 225.33 L527.43 224.89 L527.92 224.45 L528.41 224.01 L528.89 223.57 L529.38 223.14 L529.87 222.7 L530.36 222.26 L530.84 221.83 L531.33 221.39 L531.82 220.96 L532.3 220.52 L532.79 220.09 L533.28 219.65 L533.77 219.22 L534.25 218.79 L534.74 218.36 L535.23 217.92 L535.71 217.49 L536.2 217.06 L536.69 216.63 L537.18 216.2 L537.66 215.77 L538.15 215.34 L538.64 214.91 L539.12 214.48 L539.61 214.06 L540.1 213.63 L540.59 213.2 L541.07 212.77 L541.56 212.35 L542.05 211.92 L542.54 211.49 L543.02 211.06 L543.51 210.64 L544 210.21 L544.48 209.79 L544.97 209.36 L545.46 208.94 L545.95 208.51 L546.43 208.09 L546.92 207.66 L547.41 207.24 L547.89 206.81 L548.38 206.39 L548.87 205.97 L549.36 205.55 L549.84 205.13 L550.33 204.7 L550.82 204.28 L551.31 203.86 L551.79 203.44 L552.28 203.02 L552.77 202.61 L553.25 202.19 L553.74 201.77 L554.23 201.36 L554.72 200.95 L555.2 200.56 L555.69 200.18 L556.18 199.81 L556.66 199.45 L557.15 199.11 L557.64 198.77 L558.13 198.44 L558.61 198.13 L559.1 197.82 L559.59 197.52 L560.07 197.22 L560.56 196.94 L561.05 196.66 L561.54 196.38 L562.02 196.11 L562.51 195.85 L563 195.59 L563.49 195.35 L563.97 195.11 L564.46 194.89 L564.95 194.67 L565.43 194.46 L565.92 194.26 L566.41 194.07 L566.9 193.89 L567.38 193.71 L567.87 193.55 L568.36 193.39 L568.84 193.23 L569.33 193.09 L569.82 192.95 L570.31 192.83 L570.79 192.7 L571.28 192.59 L571.77 192.49 L572.26 192.4 L572.74 192.32 L573.23 192.25 L573.72 192.19 L574.2 192.13 L574.69 192.08 L575.18 192.04 L575.67 192.01 L576.15 191.98 L576.64 191.96 L577.13 191.95 L577.61 191.96 L578.1 191.98 L578.59 192.01 L579.08 192.05 L579.56 192.1 L580.05 192.15 L580.54 192.21 L581.02 192.28 L581.51 192.35 L582 192.44 L582.49 192.54 L582.97 192.66 L583.46 192.8 L583.95 192.96 L584.44 193.14 L584.92 193.34 L585.41 193.56 L585.9 193.79 L586.38 194.05 L586.87 194.32 L587.36 194.6 L587.85 194.91 L588.33 195.23 L588.82 195.57 L589.31 195.93 L589.79 196.3 L590.28 196.69 L590.77 197.11 L591.26 197.54 L591.74 197.99 L592.23 198.47 L592.72 198.96 L593.21 199.47 L593.69 200.01 L594.18 200.56 L594.67 201.14 L595.15 201.73 L595.64 202.34 L596.13 202.97 L596.62 203.62 L597.1 204.29 L597.59 204.97 L598.08 205.67 L598.56 206.39 L599.05 207.13 L599.54 207.89 L600.03 208.66 L600.51 209.45 L601 210.25 L601.49 211.07 L601.97 211.91 L602.46 212.77 L602.95 213.63 L603.44 214.51 L603.92 215.4 L604.41 216.3 L604.9 217.21 L605.39 218.13 L605.87 219.07 L606.36 220.01 L606.85 220.97 L607.33 221.95 L607.82 222.93 L608.31 223.93 L608.8 224.95 L609.28 225.98 L609.77 227.02 L610.26 228.08 L610.74 229.16 L611.23 230.25 L611.72 231.35 L612.21 232.46 L612.69 233.57 L613.18 234.69 L613.67 235.81 L614.15 236.95 L614.64 238.09 L615.13 239.24 L615.62 240.4 L616.1 241.57 L616.59 242.75 L617.08 243.95 L617.57 245.15 L618.05 246.37 L618.54 247.61 L619.03 248.85 L619.51 250.11 L620 251.38 L620.49 252.66 L620.98 253.95 L621.46 255.25 L621.95 256.57 L622.44 257.89 L622.92 259.22 L623.41 260.57 L623.9 261.93 L624.39 263.3 L624.87 264.68 L625.36 266.07 L625.85 267.48 L626.34 268.9 L626.82 270.33 L627.31 271.77 L627.8 273.22 L628.28 274.69 L628.77 276.16 L629.26 277.65 L629.75 279.15 L630.23 280.67 L630.72 282.19 L631.21 283.73 L631.69 285.28 L632.18 286.85 L632.67 288.43 L633.16 290.01 L633.64 291.61 L634.13 293.23 L634.62 294.85 L635.1 296.49 L635.59 298.14 L636.08 299.8 L636.57 301.48 L637.05 303.17 L637.54 304.88 L638.03 306.6 L638.52 308.33 L639 310.06 L639.49 311.81 L639.98 313.57 L640.46 315.34 L640.95 317.12 L641.44 318.92 L641.93 320.74 L642.41 322.58 L642.9 324.44 L643.39 326.32 L643.87 328.21 L644.36 330.11 L644.85 332.02 L645.34 333.93 L645.82 335.84 L646.31 337.77 L646.8 339.69 L647.29 341.62 L647.77 343.55 L648.26 345.48 L648.75 347.43 L649.23 349.38 L649.72 351.35 L650.21 353.33 L650.7 355.31 L651.18 357.28 L651.67 359.25 L652.16 361.22 L652.64 363.16 L653.13 365.09 L653.62 366.98 L654.11 368.84 L654.59 370.66 L655.08 372.44 L655.57 374.2 L656.05 375.93 L656.54 377.64 L657.03 379.34 L657.52 381.02 L658 382.69 L658.49 384.36 L658.98 386.02 L659.47 387.66 L659.95 389.29 L660.44 390.9 L660.93 392.5 L661.41 394.08 L661.9 395.65 L662.39 397.2 L662.88 398.75 L663.36 400.28 L663.85 401.8 L664.34 403.31 L664.82 404.8 L665.31 406.28 L665.8 407.73 L666.29 409.16 L666.77 410.57 L667.26 411.95 L667.75 413.32 L668.24 414.67 L668.72 415.99 L669.21 417.3 L669.7 418.59 L670.18 419.86 L670.67 421.11 L671.16 422.34 L671.65 423.56 L672.13 424.75 L672.62 425.91 L673.11 427.05 L673.59 428.17 L674.08 429.27 L674.57 430.35 L675.06 431.4 L675.54 432.43 L676.03 433.44 L676.52 434.43 L677 435.39 L677.49 436.34 L677.98 437.27 L678.47 438.17 L678.95 439.06 L679.44 439.92 L679.93 440.77 L680.42 441.59 L680.9 442.41 L681.39 443.21 L681.88 444 L682.36 444.77 L682.85 445.54 L683.34 446.29 L683.83 447.03 L684.31 447.75 L684.8 448.47 L685.29 449.17 L685.77 449.85 L686.26 450.52 L686.75 451.18 L687.24 451.82 L687.72 452.45 L688.21 453.06 L688.7 453.66 L689.18 454.25 L689.67 454.81 L690.16 455.37 L690.65 455.91 L691.13 456.43 L691.62 456.93 L692.11 457.43 L692.6 457.92 L693.08 458.4 L693.57 458.88 L694.06 459.35 L694.54 459.82 L695.03 460.28 L695.52 460.73 L696.01 461.18 L696.49 461.61 L696.98 462.05 L697.47 462.47 L697.95 462.89 L698.44 463.3 L698.93 463.7 L699.42 464.1 L699.9 464.48 L700.39 464.86 L700.88 465.23 L701.37 465.59 L701.85 465.94 L702.34 466.28 L702.83 466.61 L703.31 466.94 L703.8 467.25 L704.29 467.55 L704.78 467.84 L705.26 468.13 L705.75 468.4 L706.24 468.66 L706.72 468.92 L707.21 469.17 L707.7 469.41 L708.19 469.65 L708.67 469.88 L709.16 470.1 L709.65 470.31 L710.13 470.52 L710.62 470.71 L711.11 470.9 L711.6 471.08 L712.08 471.25 L712.57 471.41 L713.06 471.56 L713.55 471.7 L714.03 471.84 L714.52 471.96 L715.01 472.07 L715.49 472.17 L715.98 472.27 L716.47 472.36 L716.96 472.45 L717.44 472.53 L717.93 472.6 L718.42 472.67 L718.9 472.74 L719.39 472.8 L719.88 472.85 L720.37 472.89 L720.85 472.93 L721.34 472.97 L721.83 473 L722.32 473.02 L722.8 473.03 L723.29 473.04 L723.78 473.04 L724.26 473.03 L724.75 473.02 L725.24 473 L725.73 472.97 L726.21 472.94 L726.7 472.9" fill="none" stroke="#0b0b0d" stroke-width="5" stroke-linejoin="round" stroke-dasharray="12 3.1 2 3.1" stroke-dashoffset="4"/>
<path d="M171.02 217.06L174.16 215.49L178.87 210.78L178.87 243.75M177.3 212.35L177.3 243.75M171.02 243.75L185.15 243.75M207.13 210.78L202.42 212.35L199.28 217.06L197.71 224.91L197.71 229.62L199.28 237.47L202.42 242.18L207.13 243.75L210.27 243.75L214.98 242.18L218.12 237.47L219.69 229.62L219.69 224.91L218.12 217.06L214.98 212.35L210.27 210.78L207.13 210.78M207.13 210.78L203.99 212.35L202.42 213.92L200.85 217.06L199.28 224.91L199.28 229.62L200.85 237.47L202.42 240.61L203.99 242.18L207.13 243.75M210.27 243.75L213.41 242.18L214.98 240.61L216.55 237.47L218.12 229.62L218.12 224.91L216.55 217.06L214.98 213.92L213.41 212.35L210.27 210.78" fill="none" stroke="#0b0b0d" stroke-width="5.1" stroke-linecap="butt" stroke-linejoin="round"/>
<path d="M200.85 351.4L197.71 367.1M197.71 367.1L200.85 363.96L205.56 362.39L210.27 362.39L214.98 363.96L218.12 367.1L219.69 371.81L219.69 374.95L218.12 379.66L214.98 382.8L210.27 384.37L205.56 384.37L200.85 382.8L199.28 381.23L197.71 378.09L197.71 376.52L199.28 374.95L200.85 376.52L199.28 378.09M210.27 362.39L213.41 363.96L216.55 367.1L218.12 371.81L218.12 374.95L216.55 379.66L213.41 382.8L210.27 384.37M200.85 351.4L216.55 351.4M200.85 352.97L208.7 352.97L216.55 351.4" fill="none" stroke="#0b0b0d" stroke-width="5.1" stroke-linecap="butt" stroke-linejoin="round"/>
<path d="M207.13 492.02L202.42 493.59L199.28 498.3L197.71 506.15L197.71 510.86L199.28 518.71L202.42 523.41L207.13 524.99L210.27 524.99L214.98 523.41L218.12 518.71L219.69 510.86L219.69 506.15L218.12 498.3L214.98 493.59L210.27 492.02L207.13 492.02M207.13 492.02L203.99 493.59L202.42 495.16L200.85 498.3L199.28 506.15L199.28 510.86L200.85 518.71L202.42 521.85L203.99 523.41L207.13 524.99M210.27 524.99L213.41 523.41L214.98 521.85L216.55 518.71L218.12 510.86L218.12 506.15L216.55 498.3L214.98 495.16L213.41 493.59L210.27 492.02" fill="none" stroke="#0b0b0d" stroke-width="5.1" stroke-linecap="butt" stroke-linejoin="round"/>
<path d="M158.46 651.47L186.72 651.47M200.85 632.63L197.71 648.33M197.71 648.33L200.85 645.19L205.56 643.62L210.27 643.62L214.98 645.19L218.12 648.33L219.69 653.04L219.69 656.18L218.12 660.89L214.98 664.03L210.27 665.6L205.56 665.6L200.85 664.03L199.28 662.46L197.71 659.32L197.71 657.75L199.28 656.18L200.85 657.75L199.28 659.32M210.27 643.62L213.41 645.19L216.55 648.33L218.12 653.04L218.12 656.18L216.55 660.89L213.41 664.03L210.27 665.6M200.85 632.63L216.55 632.63M200.85 634.2L208.7 634.2L216.55 632.63" fill="none" stroke="#0b0b0d" stroke-width="5.1" stroke-linecap="butt" stroke-linejoin="round"/>
<path d="M263.55 726.11L266.69 724.54L271.4 719.83L271.4 752.8M269.83 721.4L269.83 752.8M263.55 752.8L277.68 752.8M293.38 749.66L291.81 751.23L293.38 752.8L294.95 751.23L293.38 749.66M313.79 719.83L309.08 721.4L307.51 724.54L307.51 729.25L309.08 732.39L313.79 733.96L320.07 733.96L324.78 732.39L326.35 729.25L326.35 724.54L324.78 721.4L320.07 719.83L313.79 719.83M313.79 719.83L310.65 721.4L309.08 724.54L309.08 729.25L310.65 732.39L313.79 733.96M320.07 733.96L323.21 732.39L324.78 729.25L324.78 724.54L323.21 721.4L320.07 719.83M313.79 733.96L309.08 735.53L307.51 737.1L305.94 740.24L305.94 746.52L307.51 749.66L309.08 751.23L313.79 752.8L320.07 752.8L324.78 751.23L326.35 749.66L327.92 746.52L327.92 740.24L326.35 737.1L324.78 735.53L320.07 733.96M313.79 733.96L310.65 735.53L309.08 737.1L307.51 740.24L307.51 746.52L309.08 749.66L310.65 751.23L313.79 752.8M320.07 752.8L323.21 751.23L324.78 749.66L326.35 746.52L326.35 740.24L324.78 737.1L323.21 735.53L320.07 733.96" fill="none" stroke="#0b0b0d" stroke-width="5.1" stroke-linecap="butt" stroke-linejoin="round"/>
<path d="M445.48 726.11L447.05 727.68L445.48 729.25L443.91 727.68L443.91 726.11L445.48 722.97L447.05 721.4L451.76 719.83L458.04 719.83L462.75 721.4L464.32 722.97L465.89 726.11L465.89 729.25L464.32 732.39L459.61 735.53L451.76 738.67L448.62 740.24L445.48 743.38L443.91 748.09L443.91 752.8M458.04 719.83L461.18 721.4L462.75 722.97L464.32 726.11L464.32 729.25L462.75 732.39L458.04 735.53L451.76 738.67M443.91 749.66L445.48 748.09L448.62 748.09L456.47 751.23L461.18 751.23L464.32 749.66L465.89 748.09M448.62 748.09L456.47 752.8L462.75 752.8L464.32 751.23L465.89 748.09L465.89 744.95" fill="none" stroke="#0b0b0d" stroke-width="5.1" stroke-linecap="butt" stroke-linejoin="round"/>
<path d="M583.46 726.11L585.03 727.68L583.46 729.25L581.89 727.68L581.89 726.11L583.46 722.97L585.03 721.4L589.74 719.83L596.02 719.83L600.73 721.4L602.3 722.97L603.87 726.11L603.87 729.25L602.3 732.39L597.59 735.53L589.74 738.67L586.6 740.24L583.46 743.38L581.89 748.09L581.89 752.8M596.02 719.83L599.16 721.4L600.73 722.97L602.3 726.11L602.3 729.25L600.73 732.39L596.02 735.53L589.74 738.67M581.89 749.66L583.46 748.09L586.6 748.09L594.45 751.23L599.16 751.23L602.3 749.66L603.87 748.09M586.6 748.09L594.45 752.8L600.73 752.8L602.3 751.23L603.87 748.09L603.87 744.95M616.43 749.66L614.86 751.23L616.43 752.8L618 751.23L616.43 749.66M630.56 726.11L632.13 727.68L630.56 729.25L628.99 727.68L628.99 726.11L630.56 722.97L632.13 721.4L636.84 719.83L643.12 719.83L647.83 721.4L649.4 722.97L650.97 726.11L650.97 729.25L649.4 732.39L644.69 735.53L636.84 738.67L633.7 740.24L630.56 743.38L628.99 748.09L628.99 752.8M643.12 719.83L646.26 721.4L647.83 722.97L649.4 726.11L649.4 729.25L647.83 732.39L643.12 735.53L636.84 738.67M628.99 749.66L630.56 748.09L633.7 748.09L641.55 751.23L646.26 751.23L649.4 749.66L650.97 748.09M633.7 748.09L641.55 752.8L647.83 752.8L649.4 751.23L650.97 748.09L650.97 744.95" fill="none" stroke="#0b0b0d" stroke-width="5.1" stroke-linecap="butt" stroke-linejoin="round"/>
<path d="M354.3 787.03L354.3 820M355.87 787.03L355.87 820M349.59 787.03L355.87 787.03M349.59 820L360.58 820M377.85 798.02L373.14 799.59L370 802.73L368.43 807.44L368.43 810.58L370 815.29L373.14 818.43L377.85 820L380.99 820L385.7 818.43L388.84 815.29L390.41 810.58L390.41 807.44L388.84 802.73L385.7 799.59L380.99 798.02L377.85 798.02M377.85 798.02L374.71 799.59L371.57 802.73L370 807.44L370 810.58L371.57 815.29L374.71 818.43L377.85 820M380.99 820L384.13 818.43L387.27 815.29L388.84 810.58L388.84 807.44L387.27 802.73L384.13 799.59L380.99 798.02M407.68 798.02L404.54 799.59L402.97 801.16L401.4 804.3L401.4 807.44L402.97 810.58L404.54 812.15L407.68 813.72L410.82 813.72L413.96 812.15L415.53 810.58L417.1 807.44L417.1 804.3L415.53 801.16L413.96 799.59L410.82 798.02L407.68 798.02M404.54 799.59L402.97 802.73L402.97 809.01L404.54 812.15M413.96 812.15L415.53 809.01L415.53 802.73L413.96 799.59M415.53 801.16L417.1 799.59L420.24 798.02L420.24 799.59L417.1 799.59M402.97 810.58L401.4 812.15L399.83 815.29L399.83 816.86L401.4 820L406.11 821.57L413.96 821.57L418.67 823.14L420.24 824.71M399.83 816.86L401.4 818.43L406.11 820L413.96 820L418.67 821.57L420.24 824.71L420.24 826.28L418.67 829.42L413.96 830.99L404.54 830.99L399.83 829.42L398.26 826.28L398.26 824.71L399.83 821.57L404.54 820" fill="none" stroke="#0b0b0d" stroke-width="3.7" stroke-linecap="butt" stroke-linejoin="round"/>
<path d="M430.83 819.29L432.72 818.34L435.54 815.52L435.54 835.3M434.6 816.46L434.6 835.3M430.83 835.3L439.31 835.3M452.5 815.52L449.67 816.46L447.79 819.29L446.85 824L446.85 826.82L447.79 831.53L449.67 834.36L452.5 835.3L454.38 835.3L457.21 834.36L459.09 831.53L460.03 826.82L460.03 824L459.09 819.29L457.21 816.46L454.38 815.52L452.5 815.52M452.5 815.52L450.61 816.46L449.67 817.4L448.73 819.29L447.79 824L447.79 826.82L448.73 831.53L449.67 833.42L450.61 834.36L452.5 835.3M454.38 835.3L456.27 834.36L457.21 833.42L458.15 831.53L459.09 826.82L459.09 824L458.15 819.29L457.21 817.4L456.27 816.46L454.38 815.52" fill="none" stroke="#0b0b0d" stroke-width="3.7" stroke-linecap="butt" stroke-linejoin="round"/>
<path transform="translate(497.5 0)" d="M-4.71 798.02L-9.11 820M-3.14 798.02L-7.54 820M-5.02 807.44L-2.51 802.73L1.26 799.59L4.71 798.02L9.42 798.02L10.68 799.59L10.36 801.16L8.48 802.73L7.22 801.16L9.11 799.59M-9.42 798.02L-3.14 798.02M-13.82 820L-2.83 820" fill="none" stroke="#0b0b0d" stroke-width="3.7" stroke-linecap="butt" stroke-linejoin="round"/>
<path transform="translate(550.5 0)" d="M-4.71 780.75L-4.71 828.79M-3.14 780.75L-3.14 828.79M-4.71 780.75L6.28 780.75M-4.71 828.79L6.28 828.79M18.84 787.03L18.84 820M20.41 787.03L20.41 820M36.11 798.02L20.41 813.72M28.26 807.44L37.68 820M26.69 807.44L36.11 820M14.13 787.03L20.41 787.03M31.4 798.02L40.82 798.02M14.13 820L25.12 820M31.4 820L40.82 820M51.81 798.02L51.81 820M53.38 798.02L53.38 820M53.38 802.73L56.52 799.59L61.23 798.02L64.37 798.02L69.08 799.59L70.65 802.73L70.65 820M64.37 798.02L67.51 799.59L69.08 802.73L69.08 820M70.65 802.73L73.79 799.59L78.5 798.02L81.64 798.02L86.35 799.59L87.92 802.73L87.92 820M81.64 798.02L84.78 799.59L86.35 802.73L86.35 820M47.1 798.02L53.38 798.02M47.1 820L58.09 820M64.37 820L75.36 820M81.64 820L92.63 820M109.9 780.75L109.9 828.79M111.47 780.75L111.47 828.79M100.48 780.75L111.47 780.75M100.48 828.79L111.47 828.79" fill="none" stroke="#0b0b0d" stroke-width="3.7" stroke-linecap="butt" stroke-linejoin="round"/>
<path d="M69.53 626.02L72.67 629.16L77.38 632.3L83.66 635.44L91.51 637.01L97.79 637.01L105.64 635.44L111.92 632.3L116.63 629.16L119.77 626.02M72.67 629.16L78.95 632.3L83.66 633.87L91.51 635.44L97.79 635.44L105.64 633.87L110.35 632.3L116.63 629.16" fill="none" stroke="#0b0b0d" stroke-width="3.7" stroke-linecap="butt" stroke-linejoin="round"/>
<path d="M80.52 598.25L75.81 595.74L85.23 597.63L80.52 598.25L77.38 600.77L75.81 605.16L75.81 609.87L77.38 614.9L80.52 618.66L83.66 619.29L86.8 618.35L88.37 617.09L89.94 614.27L93.08 605.48L94.65 602.65L97.79 600.14M83.66 619.29L86.8 616.78L88.37 613.95L91.51 605.16L93.08 602.34L94.65 601.08L97.79 600.14L104.07 601.39L107.21 605.16L108.78 610.19L108.78 614.9L107.21 619.29L104.07 621.8L99.36 622.43L108.78 624.32L104.07 621.8" fill="none" stroke="#0b0b0d" stroke-width="3.7" stroke-linecap="butt" stroke-linejoin="round"/>
<path d="M69.53 551.17L119.77 579.43" fill="none" stroke="#0b0b0d" stroke-width="3.7" stroke-linecap="butt" stroke-linejoin="round"/>
<path d="M80.52 524.75L75.81 522.24L85.23 524.13L80.52 524.75L77.38 527.27L75.81 531.66L75.81 536.37L77.38 541.4L80.52 545.16L83.66 545.79L86.8 544.85L88.37 543.59L89.94 540.77L93.08 531.98L94.65 529.15L97.79 526.64M83.66 545.79L86.8 543.28L88.37 540.45L91.51 531.66L93.08 528.84L94.65 527.58L97.79 526.64L104.07 527.89L107.21 531.66L108.78 536.69L108.78 541.4L107.21 545.79L104.07 548.3L99.36 548.93L108.78 550.82L104.07 548.3" fill="none" stroke="#0b0b0d" stroke-width="3.7" stroke-linecap="butt" stroke-linejoin="round"/>
<path d="M104.3 508.44L105.24 511.27L108.07 513.15L112.78 514.09L115.6 514.09L120.31 513.15L123.14 511.27L124.08 508.44L124.08 506.56L123.14 503.73L120.31 501.85L115.6 500.91L112.78 500.91L108.07 501.85L105.24 503.73L104.3 506.56L104.3 508.44M104.3 508.44L105.24 510.33L106.18 511.27L108.07 512.21L112.78 513.15L115.6 513.15L120.31 512.21L122.2 511.27L123.14 510.33L124.08 508.44M124.08 506.56L123.14 504.67L122.2 503.73L120.31 502.79L115.6 501.85L112.78 501.85L108.07 502.79L106.18 503.73L105.24 504.67L104.3 506.56" fill="none" stroke="#0b0b0d" stroke-width="3.7" stroke-linecap="butt" stroke-linejoin="round"/>
<path d="M69.53 493.68L72.67 490.54L77.38 487.4L83.66 484.26L91.51 482.69L97.79 482.69L105.64 484.26L111.92 487.4L116.63 490.54L119.77 493.68M72.67 490.54L78.95 487.4L83.66 485.83L91.51 484.26L97.79 484.26L105.64 485.83L110.35 487.4L116.63 490.54" fill="none" stroke="#0b0b0d" stroke-width="3.7" stroke-linecap="butt" stroke-linejoin="round"/>
<path d="M69.53 419.07L119.77 447.33" fill="none" stroke="#0b0b0d" stroke-width="3.7" stroke-linecap="butt" stroke-linejoin="round"/>
<path d="M69.53 373.92L72.67 377.06L77.38 380.2L83.66 383.34L91.51 384.91L97.79 384.91L105.64 383.34L111.92 380.2L116.63 377.06L119.77 373.92M72.67 377.06L78.95 380.2L83.66 381.77L91.51 383.34L97.79 383.34L105.64 381.77L110.35 380.2L116.63 377.06" fill="none" stroke="#0b0b0d" stroke-width="3.7" stroke-linecap="butt" stroke-linejoin="round"/>
<path d="M86.8 364.86L108.78 369.26M86.8 363.29L108.78 367.69M96.22 365.17L91.51 362.66L88.37 358.89L86.8 355.44L86.8 350.73L88.37 349.47L89.94 349.79L91.51 351.67L89.94 352.93L88.37 351.04M86.8 369.57L86.8 363.29M108.78 373.97L108.78 362.98" fill="none" stroke="#0b0b0d" stroke-width="3.7" stroke-linecap="butt" stroke-linejoin="round"/>
<path d="M112.78 330.89L110.89 329.95L114.66 329.95L112.78 330.89L111.83 331.83L110.89 333.72L110.89 337.48L111.83 339.37L112.78 340.31L114.66 340.31L115.6 339.37L116.54 337.48L118.43 332.77L119.37 330.89L120.31 329.95M113.72 340.31L114.66 339.37L115.6 337.48L117.49 332.77L118.43 330.89L119.37 329.95L122.2 329.95L123.14 330.89L124.08 332.77L124.08 336.54L123.14 338.43L122.2 339.37L120.31 340.31L124.08 340.31L122.2 339.37" fill="none" stroke="#0b0b0d" stroke-width="3.7" stroke-linecap="butt" stroke-linejoin="round"/>
<path d="M108.07 321.42L107.12 319.53L104.3 316.71L124.08 316.71M105.24 317.65L124.08 317.65M124.08 321.42L124.08 312.94" fill="none" stroke="#0b0b0d" stroke-width="3.7" stroke-linecap="butt" stroke-linejoin="round"/>
<path d="M69.53 276.87L119.77 305.13" fill="none" stroke="#0b0b0d" stroke-width="3.7" stroke-linecap="butt" stroke-linejoin="round"/>
<path d="M86.8 268.86L108.78 273.26M86.8 267.29L108.78 271.69M96.22 269.17L91.51 266.66L88.37 262.89L86.8 259.44L86.8 254.73L88.37 253.47L89.94 253.79L91.51 255.67L89.94 256.93L88.37 255.04M86.8 273.57L86.8 267.29M108.78 277.97L108.78 266.98" fill="none" stroke="#0b0b0d" stroke-width="3.7" stroke-linecap="butt" stroke-linejoin="round"/>
<path d="M112.78 234.79L110.89 233.85L114.66 233.85L112.78 234.79L111.83 235.73L110.89 237.62L110.89 241.38L111.83 243.27L112.78 244.21L114.66 244.21L115.6 243.27L116.54 241.38L118.43 236.67L119.37 234.79L120.31 233.85M113.72 244.21L114.66 243.27L115.6 241.38L117.49 236.67L118.43 234.79L119.37 233.85L122.2 233.85L123.14 234.79L124.08 236.67L124.08 240.44L123.14 242.33L122.2 243.27L120.31 244.21L124.08 244.21L122.2 243.27" fill="none" stroke="#0b0b0d" stroke-width="3.7" stroke-linecap="butt" stroke-linejoin="round"/>
<path d="M104.3 222.34L105.24 225.17L108.07 227.05L112.78 227.99L115.6 227.99L120.31 227.05L123.14 225.17L124.08 222.34L124.08 220.46L123.14 217.63L120.31 215.75L115.6 214.81L112.78 214.81L108.07 215.75L105.24 217.63L104.3 220.46L104.3 222.34M104.3 222.34L105.24 224.23L106.18 225.17L108.07 226.11L112.78 227.05L115.6 227.05L120.31 226.11L122.2 225.17L123.14 224.23L124.08 222.34M124.08 220.46L123.14 218.57L122.2 217.63L120.31 216.69L115.6 215.75L112.78 215.75L108.07 216.69L106.18 217.63L105.24 218.57L104.3 220.46" fill="none" stroke="#0b0b0d" stroke-width="3.7" stroke-linecap="butt" stroke-linejoin="round"/>
<path d="M69.53 207.88L72.67 204.74L77.38 201.6L83.66 198.46L91.51 196.89L97.79 196.89L105.64 198.46L111.92 201.6L116.63 204.74L119.77 207.88M72.67 204.74L78.95 201.6L83.66 200.03L91.51 198.46L97.79 198.46L105.64 200.03L110.35 201.6L116.63 204.74" fill="none" stroke="#0b0b0d" stroke-width="3.7" stroke-linecap="butt" stroke-linejoin="round"/>
<path d="M71.6 584L71.45 584L71.3 584.01L71.15 584.03L71 584.06L70.85 584.09L70.7 584.13L70.56 584.18L70.41 584.24L70.27 584.3L70.14 584.37L70.01 584.44L69.88 584.52L69.75 584.61L69.63 584.7L69.52 584.8L69.41 584.91L69.3 585.02L69.2 585.13L69.11 585.25L69.02 585.38L68.94 585.51L68.87 585.64L68.8 585.77L68.74 585.91L68.68 586.06L68.63 586.2L68.59 586.35L68.56 586.5L68.53 586.65L68.51 586.8L68.5 586.95L68.5 587.1L68.5 587.25L68.51 587.4L68.53 587.55L68.56 587.7L68.59 587.85L68.63 588L68.68 588.14L68.74 588.29L68.8 588.43L68.87 588.56L68.94 588.69L69.02 588.82L69.11 588.95L69.2 589.07L69.3 589.18L69.41 589.29L69.52 589.4L69.63 589.5L69.75 589.59L69.88 589.68L70.01 589.76L70.14 589.83L70.27 589.9L70.41 589.96L70.56 590.02L70.7 590.07L70.85 590.11L71 590.14L71.15 590.17L71.3 590.19L82.78 591.24L82.9 591.25L83.02 591.24L83.14 591.23L83.26 591.2L83.38 591.15L83.49 591.1L83.59 591.04L83.69 590.97L83.78 590.88L83.87 590.79L83.94 590.69L84 590.59L84.05 590.48L84.1 590.36L84.13 590.24L84.14 590.12L84.15 590L84.14 589.88L84.13 589.76L84.1 589.64L84.05 589.52L84 589.41L83.94 589.31L83.87 589.21L83.78 589.12L83.69 589.03L83.59 588.96L83.49 588.9L83.38 588.85L72.79 584.24L72.64 584.18L72.5 584.13L72.35 584.09L72.2 584.06L72.05 584.03L71.9 584.01L71.75 584Z" fill="#0b0b0d"/>
</svg></body></html>
